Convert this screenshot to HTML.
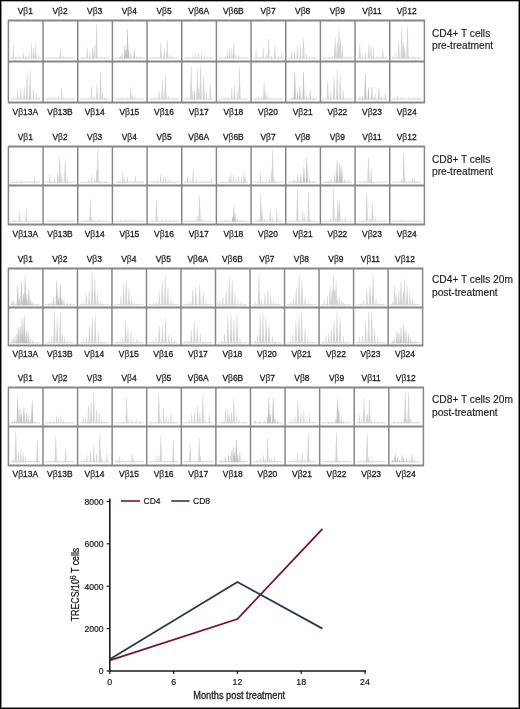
<!DOCTYPE html><html><head><meta charset="utf-8"><style>html,body{margin:0;padding:0;background:#fff;overflow:hidden}svg{display:block;filter:blur(0.3px);font-family:"Liberation Sans",sans-serif}</style></head><body>
<svg width="520" height="709" viewBox="0 0 520 709">
<rect x="0" y="0" width="520" height="709" fill="#fff"/>
<path d="M10.52 58.5L10.75 57.0L11.25 57.0L11.48 58.5ZM12.50 58.5L13.15 45.2L13.65 45.2L14.30 58.5ZM15.52 58.5L15.75 57.0L16.25 57.0L16.48 58.5ZM19.50 58.5L19.75 56.5L20.25 56.5L20.50 58.5ZM22.86 58.5L23.25 52.6L23.75 52.6L24.14 58.5ZM25.66 58.5L25.95 55.3L26.45 55.3L26.74 58.5ZM28.29 58.5L28.65 53.3L29.15 53.3L29.51 58.5ZM30.66 58.5L31.35 44.0L31.85 44.0L32.54 58.5ZM32.77 58.5L33.35 47.2L33.85 47.2L34.43 58.5ZM34.66 58.5L35.35 44.0L35.85 44.0L36.54 58.5ZM38.13 58.5L38.45 54.6L38.95 54.6L39.27 58.5ZM51.18 58.5L51.42 57.0L51.92 57.0L52.15 58.5ZM54.18 58.5L54.42 57.0L54.92 57.0L55.15 58.5ZM56.67 58.5L56.92 56.7L57.42 56.7L57.66 58.5ZM59.69 58.5L60.22 48.6L60.72 48.6L61.25 58.5ZM62.62 58.5L62.92 55.3L63.42 55.3L63.71 58.5ZM65.57 58.5L65.82 56.7L66.32 56.7L66.56 58.5ZM68.18 58.5L68.42 57.0L68.92 57.0L69.15 58.5ZM83.85 58.5L84.08 57.0L84.58 57.0L84.82 58.5ZM86.31 58.5L86.88 47.2L87.38 47.2L87.96 58.5ZM89.17 58.5L89.58 52.0L90.08 52.0L90.49 58.5ZM91.71 58.5L92.28 47.2L92.78 47.2L93.36 58.5ZM93.34 58.5L93.98 45.2L94.48 45.2L95.13 58.5ZM95.38 58.5L96.28 24.0L96.78 24.0L97.68 58.5ZM98.04 58.5L98.28 56.7L98.78 56.7L99.03 58.5ZM102.05 58.5L102.28 57.0L102.78 57.0L103.02 58.5ZM104.05 58.5L104.28 57.0L104.78 57.0L105.02 58.5ZM154.28 58.5L154.52 57.0L155.02 57.0L155.25 58.5ZM156.96 58.5L157.22 56.5L157.72 56.5L157.97 58.5ZM159.76 58.5L160.52 42.0L161.02 42.0L161.78 58.5ZM163.41 58.5L163.92 49.3L164.42 49.3L164.92 58.5ZM166.19 58.5L167.02 40.0L167.52 40.0L168.35 58.5ZM170.28 58.5L170.62 54.0L171.12 54.0L171.46 58.5ZM173.07 58.5L173.32 56.7L173.82 56.7L174.06 58.5ZM188.55 58.5L188.78 57.0L189.28 57.0L189.52 58.5ZM191.93 58.5L192.18 56.5L192.68 56.5L192.94 58.5ZM195.22 58.5L195.58 53.3L196.08 53.3L196.45 58.5ZM198.19 58.5L198.58 52.6L199.08 52.6L199.47 58.5ZM200.92 58.5L201.28 53.3L201.78 53.3L202.15 58.5ZM204.03 58.5L204.28 56.5L204.78 56.5L205.04 58.5ZM206.75 58.5L206.98 57.0L207.48 57.0L207.72 58.5ZM224.60 58.5L224.85 56.5L225.35 56.5L225.60 58.5ZM227.14 58.5L227.55 52.0L228.05 52.0L228.46 58.5ZM228.72 58.5L229.25 48.6L229.75 48.6L230.28 58.5ZM231.00 58.5L231.55 48.0L232.05 48.0L232.60 58.5ZM232.79 58.5L233.55 42.0L234.05 42.0L234.81 58.5ZM235.33 58.5L235.65 54.6L236.15 54.6L236.47 58.5ZM238.03 58.5L238.35 54.6L238.85 54.6L239.17 58.5ZM241.51 58.5L241.75 57.0L242.25 57.0L242.49 58.5ZM255.31 58.5L255.82 49.3L256.32 49.3L256.82 58.5ZM258.87 58.5L259.12 56.7L259.62 56.7L259.86 58.5ZM262.34 58.5L262.92 47.2L263.42 47.2L263.99 58.5ZM265.60 58.5L265.92 54.6L266.42 54.6L266.74 58.5ZM267.43 58.5L268.32 38.5L268.82 38.5L269.70 58.5ZM271.05 58.5L271.32 56.0L271.82 56.0L272.09 58.5ZM274.00 58.5L274.62 46.0L275.12 46.0L275.74 58.5ZM277.75 58.5L278.02 56.0L278.52 56.0L278.79 58.5ZM281.01 58.5L281.42 52.0L281.92 52.0L282.33 58.5ZM290.75 58.5L291.18 51.3L291.68 51.3L292.12 58.5ZM293.82 58.5L294.28 50.6L294.78 50.6L295.24 58.5ZM296.56 58.5L297.18 46.0L297.68 46.0L298.30 58.5ZM299.51 58.5L300.18 44.5L300.68 44.5L301.36 58.5ZM302.38 58.5L303.28 38.0L303.78 38.0L304.68 58.5ZM305.62 58.5L305.98 53.3L306.48 53.3L306.85 58.5ZM309.03 58.5L309.28 56.5L309.78 56.5L310.04 58.5ZM312.45 58.5L312.68 57.0L313.18 57.0L313.42 58.5ZM328.60 58.5L328.85 56.5L329.35 56.5L329.60 58.5ZM331.98 58.5L332.25 56.0L332.75 56.0L333.02 58.5ZM333.95 58.5L334.85 36.5L335.35 36.5L336.25 58.5ZM336.21 58.5L336.95 42.5L337.45 42.5L338.19 58.5ZM337.75 58.5L338.65 28.4L339.15 28.4L340.05 58.5ZM339.37 58.5L340.25 38.5L340.75 38.5L341.63 58.5ZM341.65 58.5L342.25 46.6L342.75 46.6L343.35 58.5ZM344.70 58.5L344.95 56.5L345.45 56.5L345.70 58.5ZM348.10 58.5L348.35 56.5L348.85 56.5L349.10 58.5ZM358.80 58.5L359.52 43.2L360.02 43.2L360.73 58.5ZM361.88 58.5L362.22 54.0L362.72 54.0L363.06 58.5ZM365.13 58.5L365.52 52.6L366.02 52.6L366.41 58.5ZM367.87 58.5L368.62 42.5L369.12 42.5L369.86 58.5ZM370.30 58.5L370.92 46.0L371.42 46.0L372.04 58.5ZM372.69 58.5L373.22 48.6L373.72 48.6L374.25 58.5ZM376.06 58.5L376.32 56.5L376.82 56.5L377.07 58.5ZM379.16 58.5L379.42 56.5L379.92 56.5L380.17 58.5ZM382.09 58.5L382.62 48.6L383.12 48.6L383.65 58.5ZM384.78 58.5L385.02 57.0L385.52 57.0L385.75 58.5ZM392.23 58.5L392.48 56.5L392.98 56.5L393.24 58.5ZM395.19 58.5L395.58 52.6L396.08 52.6L396.47 58.5ZM397.72 58.5L398.48 42.0L398.98 42.0L399.74 58.5ZM400.58 58.5L401.48 26.4L401.98 26.4L402.88 58.5ZM402.44 58.5L403.18 42.5L403.68 42.5L404.43 58.5ZM403.96 58.5L404.58 46.0L405.08 46.0L405.70 58.5ZM406.38 58.5L407.28 26.4L407.78 26.4L408.68 58.5ZM409.03 58.5L409.28 56.5L409.78 56.5L410.04 58.5ZM412.31 58.5L412.58 56.0L413.08 56.0L413.35 58.5ZM415.03 58.5L415.28 56.5L415.78 56.5L416.04 58.5ZM13.50 99.5L13.75 97.5L14.25 97.5L14.50 99.5ZM16.92 99.5L17.45 89.6L17.95 89.6L18.48 99.5ZM19.95 99.5L20.55 87.6L21.05 87.6L21.65 99.5ZM23.30 99.5L23.95 86.2L24.45 86.2L25.10 99.5ZM25.95 99.5L26.85 72.0L27.35 72.0L28.25 99.5ZM29.05 99.5L29.95 69.4L30.45 69.4L31.35 99.5ZM32.80 99.5L33.35 89.0L33.85 89.0L34.40 99.5ZM35.84 99.5L36.25 93.0L36.75 93.0L37.16 99.5ZM39.08 99.5L39.35 97.0L39.85 97.0L40.12 99.5ZM49.15 99.5L49.42 97.0L49.92 97.0L50.19 99.5ZM51.95 99.5L52.22 97.0L52.72 97.0L52.99 99.5ZM55.25 99.5L55.52 97.0L56.02 97.0L56.29 99.5ZM57.90 99.5L58.22 95.6L58.72 95.6L59.04 99.5ZM60.72 99.5L61.32 87.6L61.82 87.6L62.42 99.5ZM63.35 99.5L63.62 97.0L64.12 97.0L64.39 99.5ZM66.68 99.5L66.92 98.0L67.42 98.0L67.65 99.5ZM87.83 99.5L88.08 97.5L88.58 97.5L88.84 99.5ZM90.61 99.5L91.28 85.5L91.78 85.5L92.46 99.5ZM93.66 99.5L93.98 95.6L94.48 95.6L94.80 99.5ZM95.97 99.5L96.68 84.2L97.18 84.2L97.90 99.5ZM99.38 99.5L100.28 72.1L100.78 72.1L101.68 99.5ZM101.85 99.5L102.28 92.3L102.78 92.3L103.22 99.5ZM104.01 99.5L104.28 97.0L104.78 97.0L105.05 99.5ZM118.20 99.5L118.45 97.5L118.95 97.5L119.20 99.5ZM120.88 99.5L121.15 97.0L121.65 97.0L121.92 99.5ZM123.60 99.5L123.85 97.5L124.35 97.5L124.60 99.5ZM127.00 99.5L127.25 97.7L127.75 97.7L128.00 99.5ZM129.93 99.5L130.55 87.0L131.05 87.0L131.67 99.5ZM131.61 99.5L131.95 95.0L132.45 95.0L132.79 99.5ZM133.63 99.5L133.95 95.6L134.45 95.6L134.77 99.5ZM135.71 99.5L135.95 98.0L136.45 98.0L136.69 99.5ZM152.86 99.5L153.12 97.5L153.62 97.5L153.87 99.5ZM156.25 99.5L156.52 97.0L157.02 97.0L157.29 99.5ZM158.44 99.5L158.92 91.0L159.42 91.0L159.90 99.5ZM161.23 99.5L162.12 79.5L162.62 79.5L163.50 99.5ZM164.32 99.5L165.22 73.4L165.72 73.4L166.62 99.5ZM167.62 99.5L167.92 96.3L168.42 96.3L168.71 99.5ZM171.06 99.5L171.32 97.5L171.82 97.5L172.07 99.5ZM174.06 99.5L174.32 97.5L174.82 97.5L175.07 99.5ZM187.21 99.5L187.48 97.0L187.98 97.0L188.25 99.5ZM189.98 99.5L190.88 66.0L191.38 66.0L192.28 99.5ZM192.10 99.5L192.58 91.0L193.08 91.0L193.56 99.5ZM193.65 99.5L194.18 89.6L194.68 89.6L195.21 99.5ZM196.28 99.5L197.18 69.4L197.68 69.4L198.58 99.5ZM198.03 99.5L198.58 89.0L199.08 89.0L199.63 99.5ZM199.38 99.5L200.28 65.4L200.78 65.4L201.68 99.5ZM202.48 99.5L203.38 76.1L203.88 76.1L204.78 99.5ZM205.85 99.5L206.28 92.3L206.78 92.3L207.22 99.5ZM209.34 99.5L210.08 83.5L210.58 83.5L211.33 99.5ZM224.60 99.5L224.85 97.5L225.35 97.5L225.60 99.5ZM227.98 99.5L228.25 97.0L228.75 97.0L229.02 99.5ZM230.95 99.5L231.55 87.6L232.05 87.6L232.65 99.5ZM233.56 99.5L234.25 85.0L234.75 85.0L235.44 99.5ZM236.49 99.5L236.95 91.6L237.45 91.6L237.91 99.5ZM238.35 99.5L239.25 67.4L239.75 67.4L240.65 99.5ZM241.41 99.5L241.65 98.0L242.15 98.0L242.39 99.5ZM257.55 99.5L257.82 97.0L258.32 97.0L258.59 99.5ZM260.92 99.5L261.22 96.3L261.72 96.3L262.01 99.5ZM263.10 99.5L263.92 81.5L264.42 81.5L265.23 99.5ZM265.14 99.5L265.62 91.0L266.12 91.0L266.60 99.5ZM267.18 99.5L267.52 95.0L268.02 95.0L268.36 99.5ZM269.67 99.5L269.92 97.7L270.42 97.7L270.66 99.5ZM326.64 99.5L327.45 81.5L327.95 81.5L328.76 99.5ZM330.09 99.5L330.55 91.6L331.05 91.6L331.51 99.5ZM332.95 99.5L333.85 77.5L334.35 77.5L335.25 99.5ZM336.05 99.5L336.95 69.4L337.45 69.4L338.35 99.5ZM339.15 99.5L340.05 75.5L340.55 75.5L341.45 99.5ZM342.45 99.5L342.95 90.3L343.45 90.3L343.95 99.5ZM345.70 99.5L345.95 97.5L346.45 97.5L346.70 99.5ZM394.35 99.5L394.58 98.0L395.08 98.0L395.32 99.5ZM396.90 99.5L397.18 96.5L397.68 96.5L397.97 99.5ZM399.61 99.5L399.88 97.0L400.38 97.0L400.65 99.5ZM401.85 99.5L402.08 98.0L402.58 98.0L402.82 99.5ZM404.85 99.5L405.08 98.0L405.58 98.0L405.82 99.5ZM407.83 99.5L408.08 97.5L408.58 97.5L408.84 99.5ZM410.85 99.5L411.08 98.0L411.58 98.0L411.82 99.5ZM413.71 99.5L413.98 97.0L414.48 97.0L414.75 99.5ZM416.83 99.5L417.08 97.5L417.58 97.5L417.84 99.5ZM419.85 99.5L420.08 98.0L420.58 98.0L420.82 99.5ZM12.21 182.7L12.45 181.2L12.95 181.2L13.18 182.7ZM16.21 182.7L16.45 181.2L16.95 181.2L17.18 182.7ZM20.96 182.7L21.25 179.5L21.75 179.5L22.04 182.7ZM25.02 182.7L25.25 181.2L25.75 181.2L25.98 182.7ZM29.02 182.7L29.25 181.2L29.75 181.2L29.98 182.7ZM33.54 182.7L33.95 176.2L34.45 176.2L34.86 182.7ZM35.80 182.7L36.05 180.7L36.55 180.7L36.80 182.7ZM48.94 182.7L49.42 174.2L49.92 174.2L50.40 182.7ZM51.27 182.7L51.52 180.9L52.02 180.9L52.26 182.7ZM53.88 182.7L54.22 178.2L54.72 178.2L55.06 182.7ZM56.94 182.7L57.52 171.4L58.02 171.4L58.59 182.7ZM58.62 182.7L59.52 156.2L60.02 156.2L60.92 182.7ZM61.16 182.7L61.62 174.8L62.12 174.8L62.58 182.7ZM64.02 182.7L64.92 158.7L65.42 158.7L66.32 182.7ZM66.55 182.7L66.92 177.5L67.42 177.5L67.78 182.7ZM69.38 182.7L69.62 181.2L70.12 181.2L70.35 182.7ZM84.55 182.7L84.78 181.2L85.28 181.2L85.52 182.7ZM87.89 182.7L88.18 179.5L88.68 179.5L88.98 182.7ZM91.10 182.7L91.58 174.2L92.08 174.2L92.56 182.7ZM93.99 182.7L94.28 179.5L94.78 179.5L95.08 182.7ZM95.64 182.7L96.28 169.4L96.78 169.4L97.43 182.7ZM96.68 182.7L97.58 148.2L98.08 148.2L98.98 182.7ZM100.03 182.7L100.28 180.7L100.78 180.7L101.04 182.7ZM103.45 182.7L103.68 181.2L104.18 181.2L104.42 182.7ZM118.22 182.7L118.45 181.2L118.95 181.2L119.19 182.7ZM120.20 182.7L120.45 180.7L120.95 180.7L121.20 182.7ZM121.95 182.7L122.55 170.8L123.05 170.8L123.65 182.7ZM124.19 182.7L124.55 177.5L125.05 177.5L125.41 182.7ZM126.84 182.7L127.25 176.2L127.75 176.2L128.16 182.7ZM129.68 182.7L129.95 180.2L130.45 180.2L130.72 182.7ZM132.40 182.7L132.65 180.9L133.15 180.9L133.40 182.7ZM134.84 182.7L135.25 176.2L135.75 176.2L136.16 182.7ZM137.70 182.7L137.95 180.7L138.45 180.7L138.70 182.7ZM154.26 182.7L154.52 180.7L155.02 180.7L155.27 182.7ZM156.92 182.7L157.22 179.5L157.72 179.5L158.01 182.7ZM159.84 182.7L160.32 174.2L160.82 174.2L161.30 182.7ZM162.63 182.7L163.02 176.8L163.52 176.8L163.91 182.7ZM165.21 182.7L165.62 176.2L166.12 176.2L166.53 182.7ZM167.60 182.7L167.92 178.8L168.42 178.8L168.74 182.7ZM170.36 182.7L170.62 180.7L171.12 180.7L171.37 182.7ZM173.08 182.7L173.32 181.2L173.82 181.2L174.05 182.7ZM186.79 182.7L187.18 176.8L187.68 176.8L188.07 182.7ZM189.93 182.7L190.18 180.7L190.68 180.7L190.94 182.7ZM192.21 182.7L192.88 168.7L193.38 168.7L194.06 182.7ZM195.82 182.7L196.18 177.5L196.68 177.5L197.05 182.7ZM199.33 182.7L199.58 180.7L200.08 180.7L200.34 182.7ZM202.74 182.7L202.98 180.9L203.48 180.9L203.73 182.7ZM205.45 182.7L205.68 181.2L206.18 181.2L206.42 182.7ZM210.74 182.7L211.08 178.2L211.58 178.2L211.92 182.7ZM225.90 182.7L226.15 180.9L226.65 180.9L226.90 182.7ZM228.42 182.7L228.85 175.5L229.35 175.5L229.78 182.7ZM230.15 182.7L230.65 173.5L231.15 173.5L231.65 182.7ZM232.87 182.7L233.35 174.2L233.85 174.2L234.33 182.7ZM235.29 182.7L235.65 177.5L236.15 177.5L236.51 182.7ZM237.94 182.7L238.35 176.2L238.85 176.2L239.26 182.7ZM241.06 182.7L241.45 176.8L241.95 176.8L242.34 182.7ZM243.17 182.7L243.75 171.4L244.25 171.4L244.83 182.7ZM244.62 182.7L245.05 175.5L245.55 175.5L245.98 182.7ZM256.28 182.7L256.52 181.2L257.02 181.2L257.25 182.7ZM259.67 182.7L260.22 172.2L260.72 172.2L261.27 182.7ZM262.66 182.7L262.92 180.7L263.42 180.7L263.67 182.7ZM266.20 182.7L266.52 178.8L267.02 178.8L267.34 182.7ZM268.88 182.7L269.22 178.2L269.72 178.2L270.06 182.7ZM270.72 182.7L271.32 170.8L271.82 170.8L272.42 182.7ZM271.42 182.7L272.32 149.2L272.82 149.2L273.72 182.7ZM273.58 182.7L273.92 178.2L274.42 178.2L274.76 182.7ZM276.37 182.7L276.62 180.9L277.12 180.9L277.36 182.7ZM361.98 182.7L362.22 181.2L362.72 181.2L362.95 182.7ZM365.25 182.7L365.52 180.2L366.02 180.2L366.29 182.7ZM367.32 182.7L368.22 156.6L368.72 156.6L369.62 182.7ZM370.23 182.7L370.92 168.2L371.42 168.2L372.11 182.7ZM372.46 182.7L372.72 180.7L373.22 180.7L373.47 182.7ZM400.86 182.7L401.18 178.8L401.68 178.8L402.00 182.7ZM402.68 182.7L403.58 152.2L404.08 152.2L404.98 182.7ZM404.24 182.7L404.58 178.2L405.08 178.2L405.42 182.7ZM409.03 182.7L409.28 180.7L409.78 180.7L410.04 182.7ZM411.62 182.7L411.98 177.5L412.48 177.5L412.85 182.7ZM414.04 182.7L414.38 178.2L414.88 178.2L415.22 182.7ZM14.52 221.7L14.75 220.2L15.25 220.2L15.48 221.7ZM18.60 221.7L19.15 211.2L19.65 211.2L20.20 221.7ZM20.30 221.7L20.55 219.7L21.05 219.7L21.30 221.7ZM25.33 221.7L25.95 209.2L26.45 209.2L27.07 221.7ZM28.40 221.7L28.65 219.7L29.15 219.7L29.40 221.7ZM48.18 221.7L48.42 220.2L48.92 220.2L49.15 221.7ZM53.25 221.7L53.52 219.2L54.02 219.2L54.29 221.7ZM56.18 221.7L56.42 220.2L56.92 220.2L57.15 221.7ZM60.18 221.7L60.42 220.2L60.92 220.2L61.15 221.7ZM63.18 221.7L63.42 220.2L63.92 220.2L64.15 221.7ZM65.36 221.7L65.62 219.7L66.12 219.7L66.37 221.7ZM68.18 221.7L68.42 220.2L68.92 220.2L69.15 221.7ZM84.55 221.7L84.78 220.2L85.28 220.2L85.52 221.7ZM87.25 221.7L87.48 220.2L87.98 220.2L88.22 221.7ZM89.14 221.7L89.48 217.2L89.98 217.2L90.32 221.7ZM89.28 221.7L90.18 199.2L90.68 199.2L91.58 221.7ZM92.03 221.7L92.28 219.7L92.78 219.7L93.04 221.7ZM94.03 221.7L94.28 219.7L94.78 219.7L95.04 221.7ZM96.73 221.7L96.98 219.7L97.48 219.7L97.74 221.7ZM98.91 221.7L99.18 219.2L99.68 219.2L99.95 221.7ZM119.90 221.7L120.15 219.7L120.65 219.7L120.90 221.7ZM122.52 221.7L122.75 220.2L123.25 220.2L123.48 221.7ZM124.98 221.7L125.25 219.2L125.75 219.2L126.02 221.7ZM127.50 221.7L127.75 219.7L128.25 219.7L128.50 221.7ZM130.28 221.7L130.55 219.2L131.05 219.2L131.32 221.7ZM132.51 221.7L132.75 220.2L133.25 220.2L133.49 221.7ZM152.28 221.7L152.52 220.2L153.02 220.2L153.25 221.7ZM155.32 221.7L156.22 199.7L156.72 199.7L157.62 221.7ZM158.26 221.7L158.52 219.7L159.02 219.7L159.27 221.7ZM161.28 221.7L161.62 217.2L162.12 217.2L162.46 221.7ZM165.30 221.7L165.62 217.8L166.12 217.8L166.44 221.7ZM169.06 221.7L169.32 219.7L169.82 219.7L170.07 221.7ZM173.06 221.7L173.32 219.7L173.82 219.7L174.07 221.7ZM192.65 221.7L192.88 220.2L193.38 220.2L193.62 221.7ZM196.49 221.7L196.88 215.8L197.38 215.8L197.77 221.7ZM198.38 221.7L199.28 195.2L199.78 195.2L200.68 221.7ZM200.71 221.7L200.98 219.2L201.48 219.2L201.75 221.7ZM257.57 221.7L257.82 219.9L258.32 219.9L258.56 221.7ZM259.62 221.7L260.52 193.6L261.02 193.6L261.92 221.7ZM261.22 221.7L261.82 209.8L262.32 209.8L262.92 221.7ZM264.22 221.7L264.52 218.5L265.02 218.5L265.31 221.7ZM266.96 221.7L267.22 219.7L267.72 219.7L267.97 221.7ZM269.27 221.7L269.92 208.4L270.42 208.4L271.06 221.7ZM271.55 221.7L271.92 216.5L272.42 216.5L272.78 221.7ZM276.00 221.7L276.62 209.2L277.12 209.2L277.74 221.7ZM278.46 221.7L278.72 219.7L279.22 219.7L279.47 221.7ZM293.53 221.7L293.78 219.7L294.28 219.7L294.54 221.7ZM296.28 221.7L297.18 187.2L297.68 187.2L298.58 221.7ZM299.61 221.7L299.88 219.2L300.38 219.2L300.65 221.7ZM302.00 221.7L302.58 210.2L303.08 210.2L303.67 221.7ZM304.12 221.7L304.58 213.8L305.08 213.8L305.54 221.7ZM307.38 221.7L308.28 191.2L308.78 191.2L309.68 221.7ZM310.43 221.7L310.68 219.7L311.18 219.7L311.44 221.7ZM329.86 221.7L330.15 218.5L330.65 218.5L330.94 221.7ZM332.35 221.7L333.25 188.6L333.75 188.6L334.65 221.7ZM335.21 221.7L335.55 217.2L336.05 217.2L336.39 221.7ZM336.65 221.7L337.55 200.3L338.05 200.3L338.95 221.7ZM338.35 221.7L339.25 200.3L339.75 200.3L340.65 221.7ZM341.98 221.7L342.25 219.2L342.75 219.2L343.02 221.7ZM344.59 221.7L344.95 216.5L345.45 216.5L345.81 221.7ZM363.26 221.7L363.52 219.7L364.02 219.7L364.27 221.7ZM365.62 221.7L366.52 191.2L367.02 191.2L367.92 221.7ZM369.28 221.7L369.62 217.2L370.12 217.2L370.46 221.7ZM371.38 221.7L372.22 203.0L372.72 203.0L373.55 221.7ZM374.58 221.7L374.92 217.2L375.42 217.2L375.76 221.7ZM377.36 221.7L377.62 219.7L378.12 219.7L378.37 221.7ZM394.85 221.7L395.08 220.2L395.58 220.2L395.82 221.7ZM397.85 221.7L398.08 220.2L398.58 220.2L398.82 221.7ZM399.85 221.7L400.08 220.2L400.58 220.2L400.82 221.7ZM402.31 221.7L402.58 219.2L403.08 219.2L403.35 221.7ZM404.85 221.7L405.08 220.2L405.58 220.2L405.82 221.7ZM407.85 221.7L408.08 220.2L408.58 220.2L408.82 221.7ZM411.85 221.7L412.08 220.2L412.58 220.2L412.82 221.7ZM415.85 221.7L416.08 220.2L416.58 220.2L416.82 221.7ZM418.85 221.7L419.08 220.2L419.58 220.2L419.82 221.7ZM79.95 305.3L80.18 303.8L80.68 303.8L80.92 305.3ZM82.59 305.3L82.88 302.1L83.38 302.1L83.68 305.3ZM85.36 305.3L85.98 292.8L86.48 292.8L87.10 305.3ZM88.19 305.3L88.88 290.8L89.38 290.8L90.07 305.3ZM90.98 305.3L91.88 273.2L92.38 273.2L93.28 305.3ZM93.68 305.3L94.58 277.8L95.08 277.8L95.98 305.3ZM96.66 305.3L97.28 292.8L97.78 292.8L98.40 305.3ZM99.64 305.3L99.98 300.8L100.48 300.8L100.82 305.3ZM102.75 305.3L102.98 303.8L103.48 303.8L103.72 305.3ZM117.65 305.3L117.90 303.3L118.40 303.3L118.65 305.3ZM120.10 305.3L120.60 296.1L121.10 296.1L121.60 305.3ZM122.40 305.3L123.30 284.8L123.80 284.8L124.70 305.3ZM125.10 305.3L126.00 279.8L126.50 279.8L127.40 305.3ZM127.91 305.3L128.70 288.0L129.20 288.0L129.99 305.3ZM130.99 305.3L131.40 298.8L131.90 298.8L132.31 305.3ZM133.71 305.3L134.00 302.1L134.50 302.1L134.79 305.3ZM137.15 305.3L137.40 303.3L137.90 303.3L138.15 305.3ZM152.95 305.3L153.22 302.8L153.72 302.8L153.99 305.3ZM156.00 305.3L156.32 301.4L156.82 301.4L157.14 305.3ZM158.37 305.3L159.02 292.0L159.52 292.0L160.16 305.3ZM161.12 305.3L162.02 280.6L162.52 280.6L163.42 305.3ZM164.02 305.3L164.92 275.2L165.42 275.2L166.32 305.3ZM166.80 305.3L167.62 287.3L168.12 287.3L168.93 305.3ZM170.31 305.3L170.72 298.8L171.22 298.8L171.63 305.3ZM173.15 305.3L173.42 302.8L173.92 302.8L174.19 305.3ZM186.66 305.3L186.93 302.8L187.43 302.8L187.70 305.3ZM189.29 305.3L189.63 300.8L190.13 300.8L190.47 305.3ZM191.59 305.3L192.33 289.3L192.83 289.3L193.58 305.3ZM194.82 305.3L195.63 287.3L196.13 287.3L196.95 305.3ZM198.53 305.3L199.43 284.6L199.93 284.6L200.83 305.3ZM202.39 305.3L203.03 292.0L203.53 292.0L204.18 305.3ZM205.34 305.3L205.73 299.4L206.23 299.4L206.62 305.3ZM208.88 305.3L209.13 303.3L209.63 303.3L209.89 305.3ZM217.26 305.3L217.55 302.1L218.05 302.1L218.34 305.3ZM219.59 305.3L219.95 300.1L220.45 300.1L220.81 305.3ZM222.17 305.3L222.65 296.8L223.15 296.8L223.63 305.3ZM225.11 305.3L225.85 289.3L226.35 289.3L227.09 305.3ZM228.05 305.3L228.95 277.2L229.45 277.2L230.35 305.3ZM231.05 305.3L231.95 280.6L232.45 280.6L233.35 305.3ZM234.13 305.3L234.75 292.8L235.25 292.8L235.87 305.3ZM237.36 305.3L237.75 299.4L238.25 299.4L238.64 305.3ZM240.18 305.3L240.45 302.8L240.95 302.8L241.22 305.3ZM243.51 305.3L243.75 303.8L244.25 303.8L244.49 305.3ZM255.00 305.3L255.27 302.8L255.77 302.8L256.04 305.3ZM257.77 305.3L258.67 273.2L259.17 273.2L260.07 305.3ZM260.98 305.3L261.37 299.4L261.87 299.4L262.26 305.3ZM264.07 305.3L264.67 293.4L265.17 293.4L265.77 305.3ZM266.95 305.3L267.67 290.0L268.17 290.0L268.88 305.3ZM269.79 305.3L270.37 294.0L270.87 294.0L271.44 305.3ZM273.08 305.3L273.47 299.4L273.97 299.4L274.36 305.3ZM276.61 305.3L276.87 303.3L277.37 303.3L277.62 305.3ZM289.66 305.3L289.98 301.4L290.48 301.4L290.80 305.3ZM292.60 305.3L293.08 296.8L293.58 296.8L294.06 305.3ZM295.15 305.3L295.98 286.6L296.48 286.6L297.32 305.3ZM298.08 305.3L298.98 273.8L299.48 273.8L300.38 305.3ZM300.88 305.3L301.78 280.6L302.28 280.6L303.18 305.3ZM304.30 305.3L304.78 296.8L305.28 296.8L305.76 305.3ZM307.59 305.3L307.88 302.1L308.38 302.1L308.68 305.3ZM309.85 305.3L310.08 303.8L310.58 303.8L310.82 305.3ZM323.49 305.3L323.90 298.8L324.40 298.8L324.81 305.3ZM326.47 305.3L327.00 295.4L327.50 295.4L328.03 305.3ZM328.86 305.3L329.70 286.6L330.20 286.6L331.04 305.3ZM330.98 305.3L331.70 290.0L332.20 290.0L332.92 305.3ZM332.20 305.3L333.10 274.8L333.60 274.8L334.50 305.3ZM333.64 305.3L334.40 288.8L334.90 288.8L335.66 305.3ZM334.90 305.3L335.80 281.9L336.30 281.9L337.20 305.3ZM336.71 305.3L337.10 299.4L337.60 299.4L337.99 305.3ZM338.37 305.3L338.90 295.4L339.40 295.4L339.93 305.3ZM340.74 305.3L341.10 300.1L341.60 300.1L341.96 305.3ZM342.91 305.3L343.20 302.1L343.70 302.1L343.99 305.3ZM360.06 305.3L360.32 303.3L360.82 303.3L361.07 305.3ZM363.03 305.3L363.42 299.4L363.92 299.4L364.31 305.3ZM365.86 305.3L366.62 288.8L367.12 288.8L367.88 305.3ZM368.82 305.3L369.72 284.8L370.22 284.8L371.12 305.3ZM371.92 305.3L372.82 273.8L373.32 273.8L374.22 305.3ZM375.38 305.3L375.82 298.1L376.32 298.1L376.75 305.3ZM378.42 305.3L378.72 302.1L379.22 302.1L379.51 305.3ZM380.98 305.3L381.22 303.8L381.72 303.8L381.95 305.3ZM391.74 305.3L392.03 302.1L392.53 302.1L392.83 305.3ZM393.55 305.3L394.43 285.3L394.93 285.3L395.82 305.3ZM395.78 305.3L396.33 294.8L396.83 294.8L397.38 305.3ZM397.84 305.3L398.53 290.8L399.03 290.8L399.72 305.3ZM399.83 305.3L400.73 281.9L401.23 281.9L402.13 305.3ZM402.36 305.3L403.03 291.3L403.53 291.3L404.21 305.3ZM403.23 305.3L404.13 279.2L404.63 279.2L405.53 305.3ZM405.95 305.3L406.83 285.3L407.33 285.3L408.22 305.3ZM408.89 305.3L409.53 292.0L410.03 292.0L410.68 305.3ZM411.82 305.3L412.23 298.8L412.73 298.8L413.14 305.3ZM414.68 305.3L414.93 303.3L415.43 303.3L415.69 305.3ZM48.57 343.3L48.87 340.1L49.37 340.1L49.66 343.3ZM51.16 343.3L51.57 336.8L52.07 336.8L52.48 343.3ZM53.37 343.3L54.27 310.5L54.77 310.5L55.67 343.3ZM56.07 343.3L56.97 317.8L57.47 317.8L58.37 343.3ZM59.17 343.3L60.07 311.8L60.57 311.8L61.47 343.3ZM61.76 343.3L62.27 334.1L62.77 334.1L63.27 343.3ZM63.96 343.3L64.37 336.8L64.87 336.8L65.28 343.3ZM66.77 343.3L67.07 340.1L67.57 340.1L67.86 343.3ZM69.51 343.3L69.77 341.3L70.27 341.3L70.52 343.3ZM82.54 343.3L82.88 338.8L83.38 338.8L83.72 343.3ZM85.77 343.3L86.18 336.8L86.68 336.8L87.09 343.3ZM88.40 343.3L89.18 326.0L89.68 326.0L90.47 343.3ZM91.08 343.3L91.98 317.2L92.48 317.2L93.38 343.3ZM94.08 343.3L94.98 315.2L95.48 315.2L96.38 343.3ZM97.51 343.3L98.08 332.0L98.58 332.0L99.16 343.3ZM100.69 343.3L100.98 340.1L101.48 340.1L101.78 343.3ZM104.15 343.3L104.38 341.8L104.88 341.8L105.12 343.3ZM116.93 343.3L117.20 340.8L117.70 340.8L117.97 343.3ZM119.56 343.3L119.90 338.8L120.40 338.8L120.74 343.3ZM122.19 343.3L122.60 336.8L123.10 336.8L123.51 343.3ZM124.40 343.3L125.30 320.8L125.80 320.8L126.70 343.3ZM127.01 343.3L127.70 328.8L128.20 328.8L128.89 343.3ZM130.12 343.3L130.70 332.0L131.20 332.0L131.78 343.3ZM133.04 343.3L133.40 338.1L133.90 338.1L134.26 343.3ZM135.76 343.3L136.10 338.8L136.60 338.8L136.94 343.3ZM138.21 343.3L138.50 340.1L139.00 340.1L139.29 343.3ZM152.92 343.3L153.22 340.1L153.72 340.1L154.01 343.3ZM155.53 343.3L155.92 337.4L156.42 337.4L156.81 343.3ZM158.20 343.3L159.02 325.3L159.52 325.3L160.33 343.3ZM161.43 343.3L162.22 326.0L162.72 326.0L163.50 343.3ZM164.42 343.3L165.32 318.6L165.82 318.6L166.72 343.3ZM167.94 343.3L168.42 334.8L168.92 334.8L169.40 343.3ZM171.01 343.3L171.42 336.8L171.92 336.8L172.33 343.3ZM174.02 343.3L174.32 340.1L174.82 340.1L175.11 343.3ZM184.66 343.3L184.93 340.8L185.43 340.8L185.70 343.3ZM187.34 343.3L187.63 340.1L188.13 340.1L188.43 343.3ZM190.26 343.3L190.93 329.3L191.43 329.3L192.11 343.3ZM193.13 343.3L194.03 321.3L194.53 321.3L195.43 343.3ZM196.27 343.3L197.03 326.6L197.53 326.6L198.30 343.3ZM199.50 343.3L200.03 333.4L200.53 333.4L201.06 343.3ZM202.74 343.3L203.03 340.1L203.53 340.1L203.83 343.3ZM205.48 343.3L205.73 341.3L206.23 341.3L206.49 343.3ZM221.26 343.3L221.55 340.1L222.05 340.1L222.34 343.3ZM223.75 343.3L224.25 334.1L224.75 334.1L225.25 343.3ZM226.75 343.3L227.65 315.2L228.15 315.2L229.05 343.3ZM229.85 343.3L230.75 313.2L231.25 313.2L232.15 343.3ZM232.75 343.3L233.65 319.3L234.15 319.3L235.05 343.3ZM235.85 343.3L236.75 314.5L237.25 314.5L238.15 343.3ZM239.39 343.3L239.75 338.1L240.25 338.1L240.61 343.3ZM242.21 343.3L242.45 341.8L242.95 341.8L243.19 343.3ZM254.97 343.3L255.27 340.1L255.77 340.1L256.06 343.3ZM256.76 343.3L257.27 334.1L257.77 334.1L258.27 343.3ZM259.07 343.3L259.97 314.5L260.47 314.5L261.37 343.3ZM261.77 343.3L262.67 313.2L263.17 313.2L264.07 343.3ZM264.87 343.3L265.77 316.6L266.27 316.6L267.17 343.3ZM267.93 343.3L268.77 324.6L269.27 324.6L270.10 343.3ZM271.61 343.3L272.07 335.4L272.57 335.4L273.03 343.3ZM274.87 343.3L275.17 340.1L275.67 340.1L275.96 343.3ZM289.69 343.3L289.98 340.1L290.48 340.1L290.78 343.3ZM292.08 343.3L292.58 334.1L293.08 334.1L293.59 343.3ZM294.78 343.3L295.68 319.9L296.18 319.9L297.08 343.3ZM297.78 343.3L298.68 315.8L299.18 315.8L300.08 343.3ZM300.48 343.3L301.38 311.2L301.88 311.2L302.78 343.3ZM304.07 343.3L304.78 328.0L305.28 328.0L306.00 343.3ZM307.09 343.3L307.48 337.4L307.98 337.4L308.37 343.3ZM309.79 343.3L310.08 340.1L310.58 340.1L310.88 343.3ZM322.75 343.3L323.00 341.3L323.50 341.3L323.75 343.3ZM325.22 343.3L325.70 334.8L326.20 334.8L326.68 343.3ZM327.87 343.3L328.40 333.4L328.90 333.4L329.43 343.3ZM330.33 343.3L331.00 329.3L331.50 329.3L332.17 343.3ZM332.90 343.3L333.80 320.6L334.30 320.6L335.20 343.3ZM335.80 343.3L336.70 311.2L337.20 311.2L338.10 343.3ZM338.90 343.3L339.80 317.2L340.30 317.2L341.20 343.3ZM342.77 343.3L343.20 336.1L343.70 336.1L344.13 343.3ZM345.63 343.3L345.90 340.8L346.40 340.8L346.67 343.3ZM358.61 343.3L359.02 336.8L359.52 336.8L359.93 343.3ZM361.88 343.3L362.32 336.1L362.82 336.1L363.25 343.3ZM364.42 343.3L365.32 321.9L365.82 321.9L366.72 343.3ZM367.52 343.3L368.42 311.8L368.92 311.8L369.82 343.3ZM370.62 343.3L371.52 310.5L372.02 310.5L372.92 343.3ZM373.74 343.3L374.42 329.3L374.92 329.3L375.59 343.3ZM377.01 343.3L377.42 336.8L377.92 336.8L378.33 343.3ZM380.25 343.3L380.52 340.8L381.02 340.8L381.29 343.3ZM49.18 423.3L49.43 421.3L49.93 421.3L50.19 423.3ZM51.29 423.3L51.53 421.5L52.03 421.5L52.28 423.3ZM53.21 423.3L53.53 419.4L54.03 419.4L54.35 423.3ZM55.77 423.3L56.23 415.4L56.73 415.4L57.19 423.3ZM57.87 423.3L58.23 418.1L58.73 418.1L59.10 423.3ZM60.07 423.3L60.53 415.4L61.03 415.4L61.49 423.3ZM62.64 423.3L62.93 420.1L63.43 420.1L63.73 423.3ZM65.40 423.3L65.63 421.8L66.13 421.8L66.37 423.3ZM82.38 423.3L82.82 416.1L83.32 416.1L83.75 423.3ZM85.15 423.3L85.52 418.1L86.02 418.1L86.38 423.3ZM87.40 423.3L88.22 405.3L88.72 405.3L89.53 423.3ZM90.02 423.3L90.92 401.9L91.42 401.9L92.32 423.3ZM92.62 423.3L93.52 391.8L94.02 391.8L94.92 423.3ZM95.54 423.3L96.22 409.3L96.72 409.3L97.39 423.3ZM98.34 423.3L98.92 412.0L99.42 412.0L99.99 423.3ZM101.32 423.3L101.62 420.1L102.12 420.1L102.41 423.3ZM104.08 423.3L104.32 421.8L104.82 421.8L105.05 423.3ZM119.27 423.3L119.50 421.8L120.00 421.8L120.23 423.3ZM122.93 423.3L123.20 420.8L123.70 420.8L123.97 423.3ZM125.40 423.3L126.30 397.2L126.80 397.2L127.70 423.3ZM128.28 423.3L128.60 419.4L129.10 419.4L129.42 423.3ZM131.56 423.3L131.90 418.8L132.40 418.8L132.74 423.3ZM135.56 423.3L135.90 418.8L136.40 418.8L136.74 423.3ZM139.01 423.3L139.30 420.1L139.80 420.1L140.09 423.3ZM155.63 423.3L155.88 421.3L156.38 421.3L156.64 423.3ZM157.68 423.3L158.58 393.2L159.08 393.2L159.98 423.3ZM160.24 423.3L160.58 418.8L161.08 418.8L161.42 423.3ZM162.57 423.3L163.28 408.0L163.78 408.0L164.50 423.3ZM165.52 423.3L165.98 415.4L166.48 415.4L166.94 423.3ZM167.64 423.3L167.98 418.8L168.48 418.8L168.82 423.3ZM170.18 423.3L170.68 414.1L171.18 414.1L171.69 423.3ZM173.13 423.3L173.38 421.3L173.88 421.3L174.14 423.3ZM185.91 423.3L186.17 421.3L186.67 421.3L186.92 423.3ZM188.53 423.3L188.87 418.8L189.37 418.8L189.71 423.3ZM191.06 423.3L191.57 414.1L192.07 414.1L192.57 423.3ZM193.67 423.3L194.27 411.4L194.77 411.4L195.37 423.3ZM196.55 423.3L197.37 405.3L197.87 405.3L198.68 423.3ZM199.12 423.3L199.67 412.8L200.17 412.8L200.72 423.3ZM201.67 423.3L202.57 393.8L203.07 393.8L203.97 423.3ZM204.75 423.3L205.07 419.4L205.57 419.4L205.89 423.3ZM208.54 423.3L209.07 413.4L209.57 413.4L210.10 423.3ZM221.90 423.3L222.15 421.3L222.65 421.3L222.90 423.3ZM224.56 423.3L225.25 408.8L225.75 408.8L226.44 423.3ZM226.88 423.3L227.55 409.3L228.05 409.3L228.72 423.3ZM228.75 423.3L229.25 414.1L229.75 414.1L230.25 423.3ZM230.55 423.3L231.15 411.4L231.65 411.4L232.25 423.3ZM232.65 423.3L233.55 397.8L234.05 397.8L234.95 423.3ZM236.07 423.3L236.55 414.8L237.05 414.8L237.53 423.3ZM238.66 423.3L238.95 420.1L239.45 420.1L239.74 423.3ZM242.11 423.3L242.35 421.8L242.85 421.8L243.09 423.3ZM288.86 423.3L289.12 421.3L289.62 421.3L289.87 423.3ZM291.47 423.3L291.82 418.5L292.32 418.5L292.67 423.3ZM294.40 423.3L294.82 416.5L295.32 416.5L295.74 423.3ZM296.72 423.3L297.62 400.3L298.12 400.3L299.02 423.3ZM300.05 423.3L300.62 412.4L301.12 412.4L301.68 423.3ZM303.01 423.3L303.62 411.1L304.12 411.1L304.73 423.3ZM306.27 423.3L306.62 418.5L307.12 418.5L307.47 423.3ZM308.83 423.3L309.32 414.5L309.82 414.5L310.31 423.3ZM312.46 423.3L312.72 421.3L313.22 421.3L313.47 423.3ZM358.79 423.3L359.28 414.5L359.78 414.5L360.27 423.3ZM361.26 423.3L361.58 419.2L362.08 419.2L362.41 423.3ZM362.88 423.3L363.78 398.3L364.28 398.3L365.18 423.3ZM365.81 423.3L366.28 415.1L366.78 415.1L367.25 423.3ZM366.77 423.3L367.28 413.8L367.78 413.8L368.30 423.3ZM368.28 423.3L369.18 399.8L369.68 399.8L370.58 423.3ZM371.28 423.3L371.58 419.8L372.08 419.8L372.39 423.3ZM374.00 423.3L374.28 420.5L374.78 420.5L375.06 423.3ZM377.43 423.3L377.68 421.3L378.18 421.3L378.44 423.3ZM380.83 423.3L381.08 421.3L381.58 421.3L381.84 423.3ZM394.16 423.3L394.47 419.8L394.97 419.8L395.27 423.3ZM397.61 423.3L397.87 421.3L398.37 421.3L398.62 423.3ZM400.96 423.3L401.27 419.8L401.77 419.8L402.07 423.3ZM403.45 423.3L403.87 416.5L404.37 416.5L404.79 423.3ZM404.07 423.3L404.97 390.8L405.47 390.8L406.37 423.3ZM406.24 423.3L406.57 419.2L407.07 419.2L407.39 423.3ZM407.37 423.3L408.27 392.2L408.77 392.2L409.67 423.3ZM409.59 423.3L409.97 417.8L410.47 417.8L410.84 423.3ZM411.71 423.3L411.97 421.3L412.47 421.3L412.72 423.3ZM12.83 462.3L13.15 458.4L13.65 458.4L13.97 462.3ZM14.65 462.3L15.55 431.5L16.05 431.5L16.95 462.3ZM17.70 462.3L18.25 451.8L18.75 451.8L19.30 462.3ZM19.88 462.3L20.55 448.3L21.05 448.3L21.72 462.3ZM22.30 462.3L22.85 451.8L23.35 451.8L23.90 462.3ZM24.84 462.3L25.25 455.8L25.75 455.8L26.16 462.3ZM27.70 462.3L27.95 460.3L28.45 460.3L28.70 462.3ZM31.12 462.3L31.35 460.8L31.85 460.8L32.09 462.3ZM36.15 462.3L37.05 440.3L37.55 440.3L38.45 462.3ZM49.18 462.3L49.43 460.3L49.93 460.3L50.19 462.3ZM51.90 462.3L52.13 460.8L52.63 460.8L52.87 462.3ZM54.63 462.3L55.53 436.2L56.03 436.2L56.93 462.3ZM57.98 462.3L58.23 460.3L58.73 460.3L58.99 462.3ZM61.99 462.3L62.23 460.5L62.73 460.5L62.98 462.3ZM64.66 462.3L65.33 448.3L65.83 448.3L66.51 462.3ZM67.40 462.3L67.63 460.8L68.13 460.8L68.37 462.3ZM83.80 462.3L84.12 458.4L84.62 458.4L84.94 462.3ZM86.36 462.3L86.82 454.4L87.32 454.4L87.78 462.3ZM89.64 462.3L90.22 451.0L90.72 451.0L91.29 462.3ZM92.76 462.3L93.52 445.8L94.02 445.8L94.78 462.3ZM95.71 462.3L96.22 453.1L96.72 453.1L97.22 462.3ZM98.72 462.3L99.62 433.5L100.12 433.5L101.02 462.3ZM101.25 462.3L101.62 457.1L102.12 457.1L102.48 462.3ZM106.11 462.3L106.62 453.1L107.12 453.1L107.62 462.3ZM115.51 462.3L115.80 459.1L116.30 459.1L116.59 462.3ZM118.81 462.3L119.20 456.4L119.70 456.4L120.09 462.3ZM122.31 462.3L122.60 459.1L123.10 459.1L123.39 462.3ZM125.77 462.3L126.00 460.8L126.50 460.8L126.73 462.3ZM129.71 462.3L130.00 459.1L130.50 459.1L130.79 462.3ZM131.37 462.3L131.90 452.4L132.40 452.4L132.93 462.3ZM132.98 462.3L133.30 458.4L133.80 458.4L134.12 462.3ZM136.26 462.3L136.50 460.8L137.00 460.8L137.24 462.3ZM154.89 462.3L155.18 459.1L155.68 459.1L155.98 462.3ZM157.45 462.3L157.88 455.1L158.38 455.1L158.82 462.3ZM159.68 462.3L160.58 436.2L161.08 436.2L161.98 462.3ZM163.64 462.3L163.88 460.5L164.38 460.5L164.63 462.3ZM167.04 462.3L167.28 460.5L167.78 460.5L168.03 462.3ZM170.45 462.3L170.68 460.8L171.18 460.8L171.42 462.3ZM172.18 462.3L173.08 439.6L173.58 439.6L174.48 462.3ZM186.63 462.3L186.87 460.8L187.37 460.8L187.60 462.3ZM189.13 462.3L189.97 443.6L190.47 443.6L191.30 462.3ZM192.63 462.3L192.87 460.8L193.37 460.8L193.60 462.3ZM196.03 462.3L196.27 460.8L196.77 460.8L197.00 462.3ZM198.07 462.3L198.97 437.6L199.47 437.6L200.37 462.3ZM199.88 462.3L200.27 456.4L200.77 456.4L201.16 462.3ZM202.13 462.3L202.37 460.8L202.87 460.8L203.10 462.3ZM256.28 462.3L256.53 460.3L257.03 460.3L257.29 462.3ZM260.27 462.3L260.63 457.1L261.13 457.1L261.50 462.3ZM262.90 462.3L263.33 455.1L263.83 455.1L264.27 462.3ZM264.59 462.3L264.93 457.8L265.43 457.8L265.77 462.3ZM266.43 462.3L267.33 436.9L267.83 436.9L268.73 462.3ZM268.97 462.3L269.33 457.1L269.83 457.1L270.20 462.3ZM271.01 462.3L271.33 458.4L271.83 458.4L272.15 462.3ZM273.64 462.3L274.03 456.4L274.53 456.4L274.92 462.3ZM276.48 462.3L276.73 460.3L277.23 460.3L277.49 462.3ZM290.86 462.3L291.12 460.3L291.62 460.3L291.87 462.3ZM293.92 462.3L294.22 459.1L294.72 459.1L295.01 462.3ZM296.69 462.3L297.22 452.4L297.72 452.4L298.25 462.3ZM299.32 462.3L299.62 459.1L300.12 459.1L300.41 462.3ZM301.41 462.3L301.92 453.1L302.42 453.1L302.92 462.3ZM304.32 462.3L304.62 459.1L305.12 459.1L305.41 462.3ZM307.02 462.3L307.92 432.8L308.42 432.8L309.32 462.3ZM309.76 462.3L310.02 460.3L310.52 460.3L310.77 462.3ZM330.55 462.3L330.80 460.3L331.30 460.3L331.55 462.3ZM333.93 462.3L334.20 459.8L334.70 459.8L334.97 462.3ZM335.30 462.3L336.20 432.2L336.70 432.2L337.60 462.3ZM337.93 462.3L338.20 459.8L338.70 459.8L338.97 462.3ZM340.65 462.3L340.90 460.5L341.40 460.5L341.65 462.3ZM343.37 462.3L343.60 460.8L344.10 460.8L344.34 462.3ZM363.93 462.3L364.18 460.3L364.68 460.3L364.94 462.3ZM365.85 462.3L366.28 455.1L366.78 455.1L367.22 462.3ZM365.98 462.3L366.88 432.8L367.38 432.8L368.28 462.3ZM367.94 462.3L368.28 457.8L368.78 457.8L369.12 462.3ZM370.01 462.3L370.28 459.8L370.78 459.8L371.05 462.3ZM372.03 462.3L372.28 460.3L372.78 460.3L373.04 462.3Z" fill="rgb(211,211,211)" stroke="none"/>
<path d="M10.5 58.0H40.2M45.2 58.0H74.8M79.8 58.0H109.5M114.5 58.0H144.2M149.2 58.0H178.8M183.8 58.0H213.5M218.5 58.0H248.2M253.2 58.0H282.8M287.8 58.0H317.5M322.5 58.0H352.2M357.2 58.0H386.8M391.8 58.0H421.5M10.5 99.0H40.2M45.2 99.0H74.8M79.8 99.0H109.5M114.5 99.0H144.2M149.2 99.0H178.8M183.8 99.0H213.5M218.5 99.0H248.2M253.2 99.0H282.8M287.8 99.0H317.5M322.5 99.0H352.2M357.2 99.0H386.8M391.8 99.0H421.5M10.5 182.2H40.2M45.2 182.2H74.8M79.8 182.2H109.5M114.5 182.2H144.2M149.2 182.2H178.8M183.8 182.2H213.5M218.5 182.2H248.2M253.2 182.2H282.8M287.8 182.2H317.5M322.5 182.2H352.2M357.2 182.2H386.8M391.8 182.2H421.5M10.5 221.2H40.2M45.2 221.2H74.8M79.8 221.2H109.5M114.5 221.2H144.2M149.2 221.2H178.8M183.8 221.2H213.5M218.5 221.2H248.2M253.2 221.2H282.8M287.8 221.2H317.5M322.5 221.2H352.2M357.2 221.2H386.8M391.8 221.2H421.5M10.5 304.8H40.0M45.0 304.8H74.5M79.5 304.8H109.0M114.0 304.8H143.6M148.6 304.8H178.1M183.1 304.8H212.6M217.6 304.8H247.1M252.1 304.8H281.6M286.6 304.8H316.1M321.1 304.8H350.7M355.7 304.8H385.2M390.2 304.8H419.7M10.5 342.8H40.0M45.0 342.8H74.5M79.5 342.8H109.0M114.0 342.8H143.6M148.6 342.8H178.1M183.1 342.8H212.6M217.6 342.8H247.1M252.1 342.8H281.6M286.6 342.8H316.1M321.1 342.8H350.7M355.7 342.8H385.2M390.2 342.8H419.7M10.5 422.8H40.1M45.1 422.8H74.7M79.7 422.8H109.2M114.2 422.8H143.8M148.8 422.8H178.4M183.4 422.8H213.0M218.0 422.8H247.6M252.6 422.8H282.2M287.2 422.8H316.8M321.8 422.8H351.3M356.3 422.8H385.9M390.9 422.8H420.5M10.5 461.8H40.1M45.1 461.8H74.7M79.7 461.8H109.2M114.2 461.8H143.8M148.8 461.8H178.4M183.4 461.8H213.0M218.0 461.8H247.6M252.6 461.8H282.2M287.2 461.8H316.8M321.8 461.8H351.3M356.3 461.8H385.9M390.9 461.8H420.5" stroke="rgb(215,215,215)" stroke-width="1" fill="none"/>
<path d="M119.58 58.5L119.85 56.0L120.35 56.0L120.62 58.5ZM121.46 58.5L121.85 52.6L122.35 52.6L122.74 58.5ZM123.90 58.5L124.55 45.2L125.05 45.2L125.70 58.5ZM125.35 58.5L125.85 49.3L126.35 49.3L126.85 58.5ZM126.35 58.5L127.25 29.0L127.75 29.0L128.65 58.5ZM128.09 58.5L128.55 50.6L129.05 50.6L129.51 58.5ZM130.19 58.5L130.55 53.3L131.05 53.3L131.41 58.5ZM133.45 58.5L133.95 49.3L134.45 49.3L134.95 58.5ZM136.40 58.5L136.65 56.5L137.15 56.5L137.40 58.5ZM139.81 58.5L140.05 57.0L140.55 57.0L140.79 58.5ZM290.93 99.5L291.18 97.5L291.68 97.5L291.94 99.5ZM293.58 99.5L294.48 72.0L294.98 72.0L295.88 99.5ZM296.68 99.5L297.18 90.3L297.68 90.3L298.19 99.5ZM298.94 99.5L299.58 86.2L300.08 86.2L300.73 99.5ZM302.38 99.5L303.28 72.0L303.78 72.0L304.68 99.5ZM306.24 99.5L306.58 95.0L307.08 95.0L307.42 99.5ZM309.50 99.5L309.98 91.0L310.48 91.0L310.96 99.5ZM313.13 99.5L313.38 97.5L313.88 97.5L314.14 99.5ZM359.25 99.5L359.52 97.0L360.02 97.0L360.29 99.5ZM361.91 99.5L362.22 96.0L362.72 96.0L363.02 99.5ZM364.22 99.5L365.12 73.0L365.62 73.0L366.52 99.5ZM367.60 99.5L368.22 87.0L368.72 87.0L369.34 99.5ZM371.00 99.5L371.62 87.0L372.12 87.0L372.74 99.5ZM374.55 99.5L374.92 94.3L375.42 94.3L375.78 99.5ZM378.04 99.5L378.62 88.2L379.12 88.2L379.69 99.5ZM381.35 99.5L381.62 97.0L382.12 97.0L382.39 99.5ZM384.63 99.5L385.02 93.6L385.52 93.6L385.91 99.5ZM289.85 182.7L290.08 181.2L290.58 181.2L290.82 182.7ZM293.49 182.7L293.78 179.5L294.28 179.5L294.58 182.7ZM297.00 182.7L297.48 174.2L297.98 174.2L298.46 182.7ZM300.08 182.7L300.58 173.5L301.08 173.5L301.59 182.7ZM302.92 182.7L303.68 166.2L304.18 166.2L304.94 182.7ZM305.68 182.7L306.58 157.2L307.08 157.2L307.98 182.7ZM308.99 182.7L309.28 179.5L309.78 179.5L310.08 182.7ZM312.45 182.7L312.68 181.2L313.18 181.2L313.42 182.7ZM325.20 182.7L325.45 180.7L325.95 180.7L326.20 182.7ZM328.01 182.7L328.25 181.2L328.75 181.2L328.99 182.7ZM330.41 182.7L330.75 178.2L331.25 178.2L331.59 182.7ZM334.05 182.7L334.55 173.5L335.05 173.5L335.55 182.7ZM335.95 182.7L336.85 160.2L337.35 160.2L338.25 182.7ZM338.67 182.7L339.55 162.7L340.05 162.7L340.93 182.7ZM340.81 182.7L341.55 166.7L342.05 166.7L342.79 182.7ZM343.96 182.7L344.25 179.5L344.75 179.5L345.04 182.7ZM348.00 182.7L348.25 180.7L348.75 180.7L349.00 182.7ZM224.61 221.7L224.85 220.2L225.35 220.2L225.59 221.7ZM228.01 221.7L228.25 220.2L228.75 220.2L228.99 221.7ZM231.89 221.7L232.25 216.5L232.75 216.5L233.11 221.7ZM232.81 221.7L233.55 205.7L234.05 205.7L234.79 221.7ZM234.49 221.7L234.95 213.8L235.45 213.8L235.91 221.7ZM236.66 221.7L236.95 218.5L237.45 218.5L237.74 221.7ZM239.40 221.7L239.65 219.9L240.15 219.9L240.40 221.7ZM242.81 221.7L243.05 220.2L243.55 220.2L243.79 221.7ZM11.41 305.3L11.75 300.8L12.25 300.8L12.59 305.3ZM13.39 305.3L13.75 300.1L14.25 300.1L14.61 305.3ZM16.59 305.3L17.45 286.0L17.95 286.0L18.81 305.3ZM18.72 305.3L19.15 298.1L19.65 298.1L20.08 305.3ZM20.35 305.3L21.25 282.8L21.75 282.8L22.65 305.3ZM22.67 305.3L23.25 294.0L23.75 294.0L24.33 305.3ZM23.95 305.3L24.85 275.8L25.35 275.8L26.25 305.3ZM25.97 305.3L26.55 294.0L27.05 294.0L27.63 305.3ZM27.89 305.3L28.65 288.8L29.15 288.8L29.91 305.3ZM30.26 305.3L30.65 299.4L31.15 299.4L31.54 305.3ZM32.36 305.3L32.65 302.1L33.15 302.1L33.44 305.3ZM35.81 305.3L36.05 303.8L36.55 303.8L36.78 305.3ZM48.60 305.3L48.87 302.8L49.37 302.8L49.64 305.3ZM51.25 305.3L51.57 301.4L52.07 301.4L52.39 305.3ZM53.09 305.3L53.57 296.8L54.07 296.8L54.55 305.3ZM55.67 305.3L56.57 280.8L57.07 280.8L57.97 305.3ZM57.81 305.3L58.27 297.4L58.77 297.4L59.23 305.3ZM59.17 305.3L60.07 284.8L60.57 284.8L61.47 305.3ZM61.23 305.3L61.67 298.1L62.17 298.1L62.60 305.3ZM63.28 305.3L63.67 299.4L64.17 299.4L64.56 305.3ZM66.77 305.3L67.07 302.1L67.57 302.1L67.86 305.3ZM70.10 305.3L70.37 302.8L70.87 302.8L71.14 305.3ZM11.41 343.3L11.75 338.8L12.25 338.8L12.59 343.3ZM13.34 343.3L13.75 336.8L14.25 336.8L14.66 343.3ZM15.35 343.3L15.85 334.1L16.35 334.1L16.85 343.3ZM17.11 343.3L17.85 327.3L18.35 327.3L19.09 343.3ZM19.06 343.3L19.85 326.0L20.35 326.0L21.14 343.3ZM20.95 343.3L21.85 319.3L22.35 319.3L23.25 343.3ZM23.05 343.3L23.95 315.2L24.45 315.2L25.35 343.3ZM25.30 343.3L25.95 330.0L26.45 330.0L27.10 343.3ZM27.35 343.3L27.95 331.4L28.45 331.4L29.05 343.3ZM29.59 343.3L29.95 338.1L30.45 338.1L30.81 343.3ZM32.36 343.3L32.65 340.1L33.15 340.1L33.44 343.3ZM391.76 343.3L392.03 340.8L392.53 340.8L392.80 343.3ZM393.71 343.3L394.03 339.4L394.53 339.4L394.85 343.3ZM396.11 343.3L396.73 330.8L397.23 330.8L397.85 343.3ZM398.18 343.3L398.73 332.8L399.23 332.8L399.78 343.3ZM400.02 343.3L400.73 328.0L401.23 328.0L401.95 343.3ZM402.60 343.3L403.43 324.6L403.93 324.6L404.77 343.3ZM405.09 343.3L405.73 330.0L406.23 330.0L406.88 343.3ZM407.63 343.3L408.13 334.1L408.63 334.1L409.14 343.3ZM409.77 343.3L410.13 338.1L410.63 338.1L411.00 343.3ZM412.56 343.3L412.83 340.8L413.33 340.8L413.60 343.3ZM414.68 343.3L414.93 341.3L415.43 341.3L415.69 343.3ZM11.48 423.3L11.75 420.8L12.25 420.8L12.52 423.3ZM14.13 423.3L14.45 419.4L14.95 419.4L15.27 423.3ZM16.55 423.3L17.45 397.2L17.95 397.2L18.85 423.3ZM19.16 423.3L19.85 408.8L20.35 408.8L21.04 423.3ZM20.75 423.3L21.25 414.1L21.75 414.1L22.25 423.3ZM22.89 423.3L23.65 406.8L24.15 406.8L24.91 423.3ZM25.40 423.3L25.95 412.8L26.45 412.8L27.00 423.3ZM27.47 423.3L27.95 414.8L28.45 414.8L28.93 423.3ZM29.61 423.3L29.95 418.8L30.45 418.8L30.79 423.3ZM31.05 423.3L31.95 400.6L32.45 400.6L33.35 423.3ZM34.40 423.3L34.65 421.5L35.15 421.5L35.40 423.3ZM254.96 423.3L255.23 420.8L255.73 420.8L256.00 423.3ZM258.98 423.3L259.23 421.3L259.73 421.3L259.99 423.3ZM264.36 423.3L264.63 420.8L265.13 420.8L265.40 423.3ZM266.92 423.3L267.33 416.8L267.83 416.8L268.24 423.3ZM267.73 423.3L268.63 397.2L269.13 397.2L270.03 423.3ZM269.73 423.3L270.23 414.1L270.73 414.1L271.24 423.3ZM272.03 423.3L272.93 397.2L273.43 397.2L274.33 423.3ZM274.37 423.3L274.73 418.1L275.23 418.1L275.60 423.3ZM277.16 423.3L277.43 420.8L277.93 420.8L278.20 423.3ZM327.96 423.3L328.20 421.8L328.70 421.8L328.94 423.3ZM331.96 423.3L332.20 421.8L332.70 421.8L332.94 423.3ZM335.27 423.3L335.60 419.2L336.10 419.2L336.43 423.3ZM336.40 423.3L337.30 399.0L337.80 399.0L338.70 423.3ZM337.92 423.3L338.60 409.1L339.10 409.1L339.78 423.3ZM340.50 423.3L340.90 417.1L341.40 417.1L341.80 423.3ZM342.62 423.3L342.90 420.5L343.40 420.5L343.68 423.3ZM221.18 462.3L221.45 459.8L221.95 459.8L222.22 462.3ZM224.46 462.3L224.85 456.4L225.35 456.4L225.74 462.3ZM227.79 462.3L228.25 454.4L228.75 454.4L229.21 462.3ZM230.37 462.3L230.95 451.0L231.45 451.0L232.03 462.3ZM232.23 462.3L232.95 447.0L233.45 447.0L234.17 462.3ZM233.72 462.3L234.25 452.4L234.75 452.4L235.28 462.3ZM235.15 462.3L236.05 439.6L236.55 439.6L237.45 462.3ZM237.17 462.3L237.65 453.8L238.15 453.8L238.63 462.3ZM239.12 462.3L239.65 452.4L240.15 452.4L240.68 462.3ZM242.80 462.3L243.05 460.3L243.55 460.3L243.80 462.3ZM392.20 462.3L392.47 459.8L392.97 459.8L393.24 462.3ZM393.48 462.3L393.87 456.4L394.37 456.4L394.76 462.3ZM394.79 462.3L395.27 453.8L395.77 453.8L396.25 462.3ZM396.78 462.3L397.17 456.4L397.67 456.4L398.06 462.3ZM398.90 462.3L399.17 459.8L399.67 459.8L399.94 462.3ZM401.43 462.3L401.87 455.1L402.37 455.1L402.80 462.3ZM402.93 462.3L403.27 457.8L403.77 457.8L404.11 462.3ZM405.65 462.3L405.97 458.4L406.47 458.4L406.79 462.3ZM409.00 462.3L409.27 459.8L409.77 459.8L410.04 462.3ZM411.31 462.3L411.77 454.4L412.27 454.4L412.73 462.3ZM413.20 462.3L413.47 459.8L413.97 459.8L414.24 462.3Z" fill="rgb(195,195,195)" stroke="none"/>
<line x1="8.0" y1="20.5" x2="425.00" y2="20.5" stroke="#888" stroke-width="1.8"/>
<line x1="8.0" y1="61.5" x2="425.00" y2="61.5" stroke="#888" stroke-width="1.8"/>
<line x1="8.0" y1="102.5" x2="425.00" y2="102.5" stroke="#888" stroke-width="1.8"/>
<line x1="8.40" y1="20" x2="8.40" y2="103" stroke="#888" stroke-width="1.5"/>
<line x1="43.07" y1="20" x2="43.07" y2="103" stroke="#888" stroke-width="1.5"/>
<line x1="77.73" y1="20" x2="77.73" y2="103" stroke="#888" stroke-width="1.5"/>
<line x1="112.40" y1="20" x2="112.40" y2="103" stroke="#888" stroke-width="1.5"/>
<line x1="147.07" y1="20" x2="147.07" y2="103" stroke="#888" stroke-width="1.5"/>
<line x1="181.73" y1="20" x2="181.73" y2="103" stroke="#888" stroke-width="1.5"/>
<line x1="216.40" y1="20" x2="216.40" y2="103" stroke="#888" stroke-width="1.5"/>
<line x1="251.07" y1="20" x2="251.07" y2="103" stroke="#888" stroke-width="1.5"/>
<line x1="285.73" y1="20" x2="285.73" y2="103" stroke="#888" stroke-width="1.5"/>
<line x1="320.40" y1="20" x2="320.40" y2="103" stroke="#888" stroke-width="1.5"/>
<line x1="355.07" y1="20" x2="355.07" y2="103" stroke="#888" stroke-width="1.5"/>
<line x1="389.73" y1="20" x2="389.73" y2="103" stroke="#888" stroke-width="1.5"/>
<line x1="424.40" y1="20" x2="424.40" y2="103" stroke="#888" stroke-width="1.5"/>
<text x="25.33" y="14.4" font-size="8.45" text-anchor="middle" fill="#1a1a1a" stroke="#1a1a1a" stroke-width="0.28">V<tspan fill="#444" stroke="#444">&#946;</tspan>1</text>
<text x="60.00" y="14.4" font-size="8.45" text-anchor="middle" fill="#1a1a1a" stroke="#1a1a1a" stroke-width="0.28">V<tspan fill="#444" stroke="#444">&#946;</tspan>2</text>
<text x="94.67" y="14.4" font-size="8.45" text-anchor="middle" fill="#1a1a1a" stroke="#1a1a1a" stroke-width="0.28">V<tspan fill="#444" stroke="#444">&#946;</tspan>3</text>
<text x="129.33" y="14.4" font-size="8.45" text-anchor="middle" fill="#1a1a1a" stroke="#1a1a1a" stroke-width="0.28">V<tspan fill="#444" stroke="#444">&#946;</tspan>4</text>
<text x="164.00" y="14.4" font-size="8.45" text-anchor="middle" fill="#1a1a1a" stroke="#1a1a1a" stroke-width="0.28">V<tspan fill="#444" stroke="#444">&#946;</tspan>5</text>
<text x="198.67" y="14.4" font-size="8.45" text-anchor="middle" fill="#1a1a1a" stroke="#1a1a1a" stroke-width="0.28">V<tspan fill="#444" stroke="#444">&#946;</tspan>6A</text>
<text x="233.33" y="14.4" font-size="8.45" text-anchor="middle" fill="#1a1a1a" stroke="#1a1a1a" stroke-width="0.28">V<tspan fill="#444" stroke="#444">&#946;</tspan>6B</text>
<text x="268.00" y="14.4" font-size="8.45" text-anchor="middle" fill="#1a1a1a" stroke="#1a1a1a" stroke-width="0.28">V<tspan fill="#444" stroke="#444">&#946;</tspan>7</text>
<text x="302.67" y="14.4" font-size="8.45" text-anchor="middle" fill="#1a1a1a" stroke="#1a1a1a" stroke-width="0.28">V<tspan fill="#444" stroke="#444">&#946;</tspan>8</text>
<text x="337.33" y="14.4" font-size="8.45" text-anchor="middle" fill="#1a1a1a" stroke="#1a1a1a" stroke-width="0.28">V<tspan fill="#444" stroke="#444">&#946;</tspan>9</text>
<text x="372.00" y="14.4" font-size="8.45" text-anchor="middle" fill="#1a1a1a" stroke="#1a1a1a" stroke-width="0.28">V<tspan fill="#444" stroke="#444">&#946;</tspan>11</text>
<text x="406.67" y="14.4" font-size="8.45" text-anchor="middle" fill="#1a1a1a" stroke="#1a1a1a" stroke-width="0.28">V<tspan fill="#444" stroke="#444">&#946;</tspan>12</text>
<text x="25.33" y="114.6" font-size="8.45" text-anchor="middle" fill="#1a1a1a" stroke="#1a1a1a" stroke-width="0.28">V<tspan fill="#444" stroke="#444">&#946;</tspan>13A</text>
<text x="60.00" y="114.6" font-size="8.45" text-anchor="middle" fill="#1a1a1a" stroke="#1a1a1a" stroke-width="0.28">V<tspan fill="#444" stroke="#444">&#946;</tspan>13B</text>
<text x="94.67" y="114.6" font-size="8.45" text-anchor="middle" fill="#1a1a1a" stroke="#1a1a1a" stroke-width="0.28">V<tspan fill="#444" stroke="#444">&#946;</tspan>14</text>
<text x="129.33" y="114.6" font-size="8.45" text-anchor="middle" fill="#1a1a1a" stroke="#1a1a1a" stroke-width="0.28">V<tspan fill="#444" stroke="#444">&#946;</tspan>15</text>
<text x="164.00" y="114.6" font-size="8.45" text-anchor="middle" fill="#1a1a1a" stroke="#1a1a1a" stroke-width="0.28">V<tspan fill="#444" stroke="#444">&#946;</tspan>16</text>
<text x="198.67" y="114.6" font-size="8.45" text-anchor="middle" fill="#1a1a1a" stroke="#1a1a1a" stroke-width="0.28">V<tspan fill="#444" stroke="#444">&#946;</tspan>17</text>
<text x="233.33" y="114.6" font-size="8.45" text-anchor="middle" fill="#1a1a1a" stroke="#1a1a1a" stroke-width="0.28">V<tspan fill="#444" stroke="#444">&#946;</tspan>18</text>
<text x="268.00" y="114.6" font-size="8.45" text-anchor="middle" fill="#1a1a1a" stroke="#1a1a1a" stroke-width="0.28">V<tspan fill="#444" stroke="#444">&#946;</tspan>20</text>
<text x="302.67" y="114.6" font-size="8.45" text-anchor="middle" fill="#1a1a1a" stroke="#1a1a1a" stroke-width="0.28">V<tspan fill="#444" stroke="#444">&#946;</tspan>21</text>
<text x="337.33" y="114.6" font-size="8.45" text-anchor="middle" fill="#1a1a1a" stroke="#1a1a1a" stroke-width="0.28">V<tspan fill="#444" stroke="#444">&#946;</tspan>22</text>
<text x="372.00" y="114.6" font-size="8.45" text-anchor="middle" fill="#1a1a1a" stroke="#1a1a1a" stroke-width="0.28">V<tspan fill="#444" stroke="#444">&#946;</tspan>23</text>
<text x="406.67" y="114.6" font-size="8.45" text-anchor="middle" fill="#1a1a1a" stroke="#1a1a1a" stroke-width="0.28">V<tspan fill="#444" stroke="#444">&#946;</tspan>24</text>
<text x="432" y="36.9" font-size="10.2" fill="#1a1a1a" stroke="#1a1a1a" stroke-width="0.15">CD4+ T cells</text>
<text x="432" y="49.4" font-size="10.2" fill="#1a1a1a" stroke="#1a1a1a" stroke-width="0.15">pre-treatment</text>
<line x1="8.0" y1="146.5" x2="425.00" y2="146.5" stroke="#888" stroke-width="1.8"/>
<line x1="8.0" y1="185.5" x2="425.00" y2="185.5" stroke="#888" stroke-width="1.8"/>
<line x1="8.0" y1="224.5" x2="425.00" y2="224.5" stroke="#888" stroke-width="1.8"/>
<line x1="8.40" y1="146" x2="8.40" y2="225" stroke="#888" stroke-width="1.5"/>
<line x1="43.07" y1="146" x2="43.07" y2="225" stroke="#888" stroke-width="1.5"/>
<line x1="77.73" y1="146" x2="77.73" y2="225" stroke="#888" stroke-width="1.5"/>
<line x1="112.40" y1="146" x2="112.40" y2="225" stroke="#888" stroke-width="1.5"/>
<line x1="147.07" y1="146" x2="147.07" y2="225" stroke="#888" stroke-width="1.5"/>
<line x1="181.73" y1="146" x2="181.73" y2="225" stroke="#888" stroke-width="1.5"/>
<line x1="216.40" y1="146" x2="216.40" y2="225" stroke="#888" stroke-width="1.5"/>
<line x1="251.07" y1="146" x2="251.07" y2="225" stroke="#888" stroke-width="1.5"/>
<line x1="285.73" y1="146" x2="285.73" y2="225" stroke="#888" stroke-width="1.5"/>
<line x1="320.40" y1="146" x2="320.40" y2="225" stroke="#888" stroke-width="1.5"/>
<line x1="355.07" y1="146" x2="355.07" y2="225" stroke="#888" stroke-width="1.5"/>
<line x1="389.73" y1="146" x2="389.73" y2="225" stroke="#888" stroke-width="1.5"/>
<line x1="424.40" y1="146" x2="424.40" y2="225" stroke="#888" stroke-width="1.5"/>
<text x="25.33" y="139.6" font-size="8.45" text-anchor="middle" fill="#1a1a1a" stroke="#1a1a1a" stroke-width="0.28">V<tspan fill="#444" stroke="#444">&#946;</tspan>1</text>
<text x="60.00" y="139.6" font-size="8.45" text-anchor="middle" fill="#1a1a1a" stroke="#1a1a1a" stroke-width="0.28">V<tspan fill="#444" stroke="#444">&#946;</tspan>2</text>
<text x="94.67" y="139.6" font-size="8.45" text-anchor="middle" fill="#1a1a1a" stroke="#1a1a1a" stroke-width="0.28">V<tspan fill="#444" stroke="#444">&#946;</tspan>3</text>
<text x="129.33" y="139.6" font-size="8.45" text-anchor="middle" fill="#1a1a1a" stroke="#1a1a1a" stroke-width="0.28">V<tspan fill="#444" stroke="#444">&#946;</tspan>4</text>
<text x="164.00" y="139.6" font-size="8.45" text-anchor="middle" fill="#1a1a1a" stroke="#1a1a1a" stroke-width="0.28">V<tspan fill="#444" stroke="#444">&#946;</tspan>5</text>
<text x="198.67" y="139.6" font-size="8.45" text-anchor="middle" fill="#1a1a1a" stroke="#1a1a1a" stroke-width="0.28">V<tspan fill="#444" stroke="#444">&#946;</tspan>6A</text>
<text x="233.33" y="139.6" font-size="8.45" text-anchor="middle" fill="#1a1a1a" stroke="#1a1a1a" stroke-width="0.28">V<tspan fill="#444" stroke="#444">&#946;</tspan>6B</text>
<text x="268.00" y="139.6" font-size="8.45" text-anchor="middle" fill="#1a1a1a" stroke="#1a1a1a" stroke-width="0.28">V<tspan fill="#444" stroke="#444">&#946;</tspan>7</text>
<text x="302.67" y="139.6" font-size="8.45" text-anchor="middle" fill="#1a1a1a" stroke="#1a1a1a" stroke-width="0.28">V<tspan fill="#444" stroke="#444">&#946;</tspan>8</text>
<text x="337.33" y="139.6" font-size="8.45" text-anchor="middle" fill="#1a1a1a" stroke="#1a1a1a" stroke-width="0.28">V<tspan fill="#444" stroke="#444">&#946;</tspan>9</text>
<text x="372.00" y="139.6" font-size="8.45" text-anchor="middle" fill="#1a1a1a" stroke="#1a1a1a" stroke-width="0.28">V<tspan fill="#444" stroke="#444">&#946;</tspan>11</text>
<text x="406.67" y="139.6" font-size="8.45" text-anchor="middle" fill="#1a1a1a" stroke="#1a1a1a" stroke-width="0.28">V<tspan fill="#444" stroke="#444">&#946;</tspan>12</text>
<text x="25.33" y="236.5" font-size="8.45" text-anchor="middle" fill="#1a1a1a" stroke="#1a1a1a" stroke-width="0.28">V<tspan fill="#444" stroke="#444">&#946;</tspan>13A</text>
<text x="60.00" y="236.5" font-size="8.45" text-anchor="middle" fill="#1a1a1a" stroke="#1a1a1a" stroke-width="0.28">V<tspan fill="#444" stroke="#444">&#946;</tspan>13B</text>
<text x="94.67" y="236.5" font-size="8.45" text-anchor="middle" fill="#1a1a1a" stroke="#1a1a1a" stroke-width="0.28">V<tspan fill="#444" stroke="#444">&#946;</tspan>14</text>
<text x="129.33" y="236.5" font-size="8.45" text-anchor="middle" fill="#1a1a1a" stroke="#1a1a1a" stroke-width="0.28">V<tspan fill="#444" stroke="#444">&#946;</tspan>15</text>
<text x="164.00" y="236.5" font-size="8.45" text-anchor="middle" fill="#1a1a1a" stroke="#1a1a1a" stroke-width="0.28">V<tspan fill="#444" stroke="#444">&#946;</tspan>16</text>
<text x="198.67" y="236.5" font-size="8.45" text-anchor="middle" fill="#1a1a1a" stroke="#1a1a1a" stroke-width="0.28">V<tspan fill="#444" stroke="#444">&#946;</tspan>17</text>
<text x="233.33" y="236.5" font-size="8.45" text-anchor="middle" fill="#1a1a1a" stroke="#1a1a1a" stroke-width="0.28">V<tspan fill="#444" stroke="#444">&#946;</tspan>18</text>
<text x="268.00" y="236.5" font-size="8.45" text-anchor="middle" fill="#1a1a1a" stroke="#1a1a1a" stroke-width="0.28">V<tspan fill="#444" stroke="#444">&#946;</tspan>20</text>
<text x="302.67" y="236.5" font-size="8.45" text-anchor="middle" fill="#1a1a1a" stroke="#1a1a1a" stroke-width="0.28">V<tspan fill="#444" stroke="#444">&#946;</tspan>21</text>
<text x="337.33" y="236.5" font-size="8.45" text-anchor="middle" fill="#1a1a1a" stroke="#1a1a1a" stroke-width="0.28">V<tspan fill="#444" stroke="#444">&#946;</tspan>22</text>
<text x="372.00" y="236.5" font-size="8.45" text-anchor="middle" fill="#1a1a1a" stroke="#1a1a1a" stroke-width="0.28">V<tspan fill="#444" stroke="#444">&#946;</tspan>23</text>
<text x="406.67" y="236.5" font-size="8.45" text-anchor="middle" fill="#1a1a1a" stroke="#1a1a1a" stroke-width="0.28">V<tspan fill="#444" stroke="#444">&#946;</tspan>24</text>
<text x="432" y="162.7" font-size="10.2" fill="#1a1a1a" stroke="#1a1a1a" stroke-width="0.15">CD8+ T cells</text>
<text x="432" y="175.0" font-size="10.2" fill="#1a1a1a" stroke="#1a1a1a" stroke-width="0.15">pre-treatment</text>
<line x1="8.0" y1="268.5" x2="423.20" y2="268.5" stroke="#888" stroke-width="1.8"/>
<line x1="8.0" y1="307.5" x2="423.20" y2="307.5" stroke="#888" stroke-width="1.8"/>
<line x1="8.0" y1="345.5" x2="423.20" y2="345.5" stroke="#888" stroke-width="1.8"/>
<line x1="8.40" y1="268" x2="8.40" y2="346" stroke="#888" stroke-width="1.5"/>
<line x1="42.92" y1="268" x2="42.92" y2="346" stroke="#888" stroke-width="1.5"/>
<line x1="77.43" y1="268" x2="77.43" y2="346" stroke="#888" stroke-width="1.5"/>
<line x1="111.95" y1="268" x2="111.95" y2="346" stroke="#888" stroke-width="1.5"/>
<line x1="146.47" y1="268" x2="146.47" y2="346" stroke="#888" stroke-width="1.5"/>
<line x1="180.98" y1="268" x2="180.98" y2="346" stroke="#888" stroke-width="1.5"/>
<line x1="215.50" y1="268" x2="215.50" y2="346" stroke="#888" stroke-width="1.5"/>
<line x1="250.02" y1="268" x2="250.02" y2="346" stroke="#888" stroke-width="1.5"/>
<line x1="284.53" y1="268" x2="284.53" y2="346" stroke="#888" stroke-width="1.5"/>
<line x1="319.05" y1="268" x2="319.05" y2="346" stroke="#888" stroke-width="1.5"/>
<line x1="353.57" y1="268" x2="353.57" y2="346" stroke="#888" stroke-width="1.5"/>
<line x1="388.08" y1="268" x2="388.08" y2="346" stroke="#888" stroke-width="1.5"/>
<line x1="422.60" y1="268" x2="422.60" y2="346" stroke="#888" stroke-width="1.5"/>
<text x="25.26" y="262.0" font-size="8.45" text-anchor="middle" fill="#1a1a1a" stroke="#1a1a1a" stroke-width="0.28">V<tspan fill="#444" stroke="#444">&#946;</tspan>1</text>
<text x="59.77" y="262.0" font-size="8.45" text-anchor="middle" fill="#1a1a1a" stroke="#1a1a1a" stroke-width="0.28">V<tspan fill="#444" stroke="#444">&#946;</tspan>2</text>
<text x="94.29" y="262.0" font-size="8.45" text-anchor="middle" fill="#1a1a1a" stroke="#1a1a1a" stroke-width="0.28">V<tspan fill="#444" stroke="#444">&#946;</tspan>3</text>
<text x="128.81" y="262.0" font-size="8.45" text-anchor="middle" fill="#1a1a1a" stroke="#1a1a1a" stroke-width="0.28">V<tspan fill="#444" stroke="#444">&#946;</tspan>4</text>
<text x="163.32" y="262.0" font-size="8.45" text-anchor="middle" fill="#1a1a1a" stroke="#1a1a1a" stroke-width="0.28">V<tspan fill="#444" stroke="#444">&#946;</tspan>5</text>
<text x="197.84" y="262.0" font-size="8.45" text-anchor="middle" fill="#1a1a1a" stroke="#1a1a1a" stroke-width="0.28">V<tspan fill="#444" stroke="#444">&#946;</tspan>6A</text>
<text x="232.36" y="262.0" font-size="8.45" text-anchor="middle" fill="#1a1a1a" stroke="#1a1a1a" stroke-width="0.28">V<tspan fill="#444" stroke="#444">&#946;</tspan>6B</text>
<text x="266.88" y="262.0" font-size="8.45" text-anchor="middle" fill="#1a1a1a" stroke="#1a1a1a" stroke-width="0.28">V<tspan fill="#444" stroke="#444">&#946;</tspan>7</text>
<text x="301.39" y="262.0" font-size="8.45" text-anchor="middle" fill="#1a1a1a" stroke="#1a1a1a" stroke-width="0.28">V<tspan fill="#444" stroke="#444">&#946;</tspan>8</text>
<text x="335.91" y="262.0" font-size="8.45" text-anchor="middle" fill="#1a1a1a" stroke="#1a1a1a" stroke-width="0.28">V<tspan fill="#444" stroke="#444">&#946;</tspan>9</text>
<text x="370.42" y="262.0" font-size="8.45" text-anchor="middle" fill="#1a1a1a" stroke="#1a1a1a" stroke-width="0.28">V<tspan fill="#444" stroke="#444">&#946;</tspan>11</text>
<text x="404.94" y="262.0" font-size="8.45" text-anchor="middle" fill="#1a1a1a" stroke="#1a1a1a" stroke-width="0.28">V<tspan fill="#444" stroke="#444">&#946;</tspan>12</text>
<text x="25.26" y="357.0" font-size="8.45" text-anchor="middle" fill="#1a1a1a" stroke="#1a1a1a" stroke-width="0.28">V<tspan fill="#444" stroke="#444">&#946;</tspan>13A</text>
<text x="59.77" y="357.0" font-size="8.45" text-anchor="middle" fill="#1a1a1a" stroke="#1a1a1a" stroke-width="0.28">V<tspan fill="#444" stroke="#444">&#946;</tspan>13B</text>
<text x="94.29" y="357.0" font-size="8.45" text-anchor="middle" fill="#1a1a1a" stroke="#1a1a1a" stroke-width="0.28">V<tspan fill="#444" stroke="#444">&#946;</tspan>14</text>
<text x="128.81" y="357.0" font-size="8.45" text-anchor="middle" fill="#1a1a1a" stroke="#1a1a1a" stroke-width="0.28">V<tspan fill="#444" stroke="#444">&#946;</tspan>15</text>
<text x="163.32" y="357.0" font-size="8.45" text-anchor="middle" fill="#1a1a1a" stroke="#1a1a1a" stroke-width="0.28">V<tspan fill="#444" stroke="#444">&#946;</tspan>16</text>
<text x="197.84" y="357.0" font-size="8.45" text-anchor="middle" fill="#1a1a1a" stroke="#1a1a1a" stroke-width="0.28">V<tspan fill="#444" stroke="#444">&#946;</tspan>17</text>
<text x="232.36" y="357.0" font-size="8.45" text-anchor="middle" fill="#1a1a1a" stroke="#1a1a1a" stroke-width="0.28">V<tspan fill="#444" stroke="#444">&#946;</tspan>18</text>
<text x="266.88" y="357.0" font-size="8.45" text-anchor="middle" fill="#1a1a1a" stroke="#1a1a1a" stroke-width="0.28">V<tspan fill="#444" stroke="#444">&#946;</tspan>20</text>
<text x="301.39" y="357.0" font-size="8.45" text-anchor="middle" fill="#1a1a1a" stroke="#1a1a1a" stroke-width="0.28">V<tspan fill="#444" stroke="#444">&#946;</tspan>21</text>
<text x="335.91" y="357.0" font-size="8.45" text-anchor="middle" fill="#1a1a1a" stroke="#1a1a1a" stroke-width="0.28">V<tspan fill="#444" stroke="#444">&#946;</tspan>22</text>
<text x="370.42" y="357.0" font-size="8.45" text-anchor="middle" fill="#1a1a1a" stroke="#1a1a1a" stroke-width="0.28">V<tspan fill="#444" stroke="#444">&#946;</tspan>23</text>
<text x="404.94" y="357.0" font-size="8.45" text-anchor="middle" fill="#1a1a1a" stroke="#1a1a1a" stroke-width="0.28">V<tspan fill="#444" stroke="#444">&#946;</tspan>24</text>
<text x="432" y="283.0" font-size="10.2" fill="#1a1a1a" stroke="#1a1a1a" stroke-width="0.15">CD4+ T cells 20m</text>
<text x="432" y="295.5" font-size="10.2" fill="#1a1a1a" stroke="#1a1a1a" stroke-width="0.15">post-treatment</text>
<line x1="8.0" y1="387.5" x2="424.00" y2="387.5" stroke="#888" stroke-width="1.8"/>
<line x1="8.0" y1="426.5" x2="424.00" y2="426.5" stroke="#888" stroke-width="1.8"/>
<line x1="8.0" y1="465.5" x2="424.00" y2="465.5" stroke="#888" stroke-width="1.8"/>
<line x1="8.40" y1="387" x2="8.40" y2="466" stroke="#888" stroke-width="1.5"/>
<line x1="42.98" y1="387" x2="42.98" y2="466" stroke="#888" stroke-width="1.5"/>
<line x1="77.57" y1="387" x2="77.57" y2="466" stroke="#888" stroke-width="1.5"/>
<line x1="112.15" y1="387" x2="112.15" y2="466" stroke="#888" stroke-width="1.5"/>
<line x1="146.73" y1="387" x2="146.73" y2="466" stroke="#888" stroke-width="1.5"/>
<line x1="181.32" y1="387" x2="181.32" y2="466" stroke="#888" stroke-width="1.5"/>
<line x1="215.90" y1="387" x2="215.90" y2="466" stroke="#888" stroke-width="1.5"/>
<line x1="250.48" y1="387" x2="250.48" y2="466" stroke="#888" stroke-width="1.5"/>
<line x1="285.07" y1="387" x2="285.07" y2="466" stroke="#888" stroke-width="1.5"/>
<line x1="319.65" y1="387" x2="319.65" y2="466" stroke="#888" stroke-width="1.5"/>
<line x1="354.23" y1="387" x2="354.23" y2="466" stroke="#888" stroke-width="1.5"/>
<line x1="388.82" y1="387" x2="388.82" y2="466" stroke="#888" stroke-width="1.5"/>
<line x1="423.40" y1="387" x2="423.40" y2="466" stroke="#888" stroke-width="1.5"/>
<text x="25.29" y="381.0" font-size="8.45" text-anchor="middle" fill="#1a1a1a" stroke="#1a1a1a" stroke-width="0.28">V<tspan fill="#444" stroke="#444">&#946;</tspan>1</text>
<text x="59.88" y="381.0" font-size="8.45" text-anchor="middle" fill="#1a1a1a" stroke="#1a1a1a" stroke-width="0.28">V<tspan fill="#444" stroke="#444">&#946;</tspan>2</text>
<text x="94.46" y="381.0" font-size="8.45" text-anchor="middle" fill="#1a1a1a" stroke="#1a1a1a" stroke-width="0.28">V<tspan fill="#444" stroke="#444">&#946;</tspan>3</text>
<text x="129.04" y="381.0" font-size="8.45" text-anchor="middle" fill="#1a1a1a" stroke="#1a1a1a" stroke-width="0.28">V<tspan fill="#444" stroke="#444">&#946;</tspan>4</text>
<text x="163.62" y="381.0" font-size="8.45" text-anchor="middle" fill="#1a1a1a" stroke="#1a1a1a" stroke-width="0.28">V<tspan fill="#444" stroke="#444">&#946;</tspan>5</text>
<text x="198.21" y="381.0" font-size="8.45" text-anchor="middle" fill="#1a1a1a" stroke="#1a1a1a" stroke-width="0.28">V<tspan fill="#444" stroke="#444">&#946;</tspan>6A</text>
<text x="232.79" y="381.0" font-size="8.45" text-anchor="middle" fill="#1a1a1a" stroke="#1a1a1a" stroke-width="0.28">V<tspan fill="#444" stroke="#444">&#946;</tspan>6B</text>
<text x="267.38" y="381.0" font-size="8.45" text-anchor="middle" fill="#1a1a1a" stroke="#1a1a1a" stroke-width="0.28">V<tspan fill="#444" stroke="#444">&#946;</tspan>7</text>
<text x="301.96" y="381.0" font-size="8.45" text-anchor="middle" fill="#1a1a1a" stroke="#1a1a1a" stroke-width="0.28">V<tspan fill="#444" stroke="#444">&#946;</tspan>8</text>
<text x="336.54" y="381.0" font-size="8.45" text-anchor="middle" fill="#1a1a1a" stroke="#1a1a1a" stroke-width="0.28">V<tspan fill="#444" stroke="#444">&#946;</tspan>9</text>
<text x="371.12" y="381.0" font-size="8.45" text-anchor="middle" fill="#1a1a1a" stroke="#1a1a1a" stroke-width="0.28">V<tspan fill="#444" stroke="#444">&#946;</tspan>11</text>
<text x="405.71" y="381.0" font-size="8.45" text-anchor="middle" fill="#1a1a1a" stroke="#1a1a1a" stroke-width="0.28">V<tspan fill="#444" stroke="#444">&#946;</tspan>12</text>
<text x="25.29" y="477.0" font-size="8.45" text-anchor="middle" fill="#1a1a1a" stroke="#1a1a1a" stroke-width="0.28">V<tspan fill="#444" stroke="#444">&#946;</tspan>13A</text>
<text x="59.88" y="477.0" font-size="8.45" text-anchor="middle" fill="#1a1a1a" stroke="#1a1a1a" stroke-width="0.28">V<tspan fill="#444" stroke="#444">&#946;</tspan>13B</text>
<text x="94.46" y="477.0" font-size="8.45" text-anchor="middle" fill="#1a1a1a" stroke="#1a1a1a" stroke-width="0.28">V<tspan fill="#444" stroke="#444">&#946;</tspan>14</text>
<text x="129.04" y="477.0" font-size="8.45" text-anchor="middle" fill="#1a1a1a" stroke="#1a1a1a" stroke-width="0.28">V<tspan fill="#444" stroke="#444">&#946;</tspan>15</text>
<text x="163.62" y="477.0" font-size="8.45" text-anchor="middle" fill="#1a1a1a" stroke="#1a1a1a" stroke-width="0.28">V<tspan fill="#444" stroke="#444">&#946;</tspan>16</text>
<text x="198.21" y="477.0" font-size="8.45" text-anchor="middle" fill="#1a1a1a" stroke="#1a1a1a" stroke-width="0.28">V<tspan fill="#444" stroke="#444">&#946;</tspan>17</text>
<text x="232.79" y="477.0" font-size="8.45" text-anchor="middle" fill="#1a1a1a" stroke="#1a1a1a" stroke-width="0.28">V<tspan fill="#444" stroke="#444">&#946;</tspan>18</text>
<text x="267.38" y="477.0" font-size="8.45" text-anchor="middle" fill="#1a1a1a" stroke="#1a1a1a" stroke-width="0.28">V<tspan fill="#444" stroke="#444">&#946;</tspan>20</text>
<text x="301.96" y="477.0" font-size="8.45" text-anchor="middle" fill="#1a1a1a" stroke="#1a1a1a" stroke-width="0.28">V<tspan fill="#444" stroke="#444">&#946;</tspan>21</text>
<text x="336.54" y="477.0" font-size="8.45" text-anchor="middle" fill="#1a1a1a" stroke="#1a1a1a" stroke-width="0.28">V<tspan fill="#444" stroke="#444">&#946;</tspan>22</text>
<text x="371.12" y="477.0" font-size="8.45" text-anchor="middle" fill="#1a1a1a" stroke="#1a1a1a" stroke-width="0.28">V<tspan fill="#444" stroke="#444">&#946;</tspan>23</text>
<text x="405.71" y="477.0" font-size="8.45" text-anchor="middle" fill="#1a1a1a" stroke="#1a1a1a" stroke-width="0.28">V<tspan fill="#444" stroke="#444">&#946;</tspan>24</text>
<text x="432" y="403.0" font-size="10.2" fill="#1a1a1a" stroke="#1a1a1a" stroke-width="0.15">CD8+ T cells 20m</text>
<text x="432" y="415.5" font-size="10.2" fill="#1a1a1a" stroke="#1a1a1a" stroke-width="0.15">post-treatment</text>
<line x1="109.8" y1="498.40" x2="109.8" y2="672.00" stroke="#1a1a1a" stroke-width="1.6"/>
<line x1="109.0" y1="671.0" x2="366.00" y2="671.0" stroke="#1a1a1a" stroke-width="1.6"/>
<line x1="106.60" y1="671.00" x2="109.8" y2="671.00" stroke="#1a1a1a" stroke-width="1.2"/>
<text x="103.60" y="674.30" font-size="8.6" text-anchor="end" fill="#1a1a1a" stroke="#1a1a1a" stroke-width="0.2">0</text>
<line x1="106.60" y1="628.60" x2="109.8" y2="628.60" stroke="#1a1a1a" stroke-width="1.2"/>
<text x="103.60" y="631.90" font-size="8.6" text-anchor="end" fill="#1a1a1a" stroke="#1a1a1a" stroke-width="0.2">2000</text>
<line x1="106.60" y1="586.20" x2="109.8" y2="586.20" stroke="#1a1a1a" stroke-width="1.2"/>
<text x="103.60" y="589.50" font-size="8.6" text-anchor="end" fill="#1a1a1a" stroke="#1a1a1a" stroke-width="0.2">4000</text>
<line x1="106.60" y1="543.80" x2="109.8" y2="543.80" stroke="#1a1a1a" stroke-width="1.2"/>
<text x="103.60" y="547.10" font-size="8.6" text-anchor="end" fill="#1a1a1a" stroke="#1a1a1a" stroke-width="0.2">6000</text>
<line x1="106.60" y1="501.40" x2="109.8" y2="501.40" stroke="#1a1a1a" stroke-width="1.2"/>
<text x="103.60" y="504.70" font-size="8.6" text-anchor="end" fill="#1a1a1a" stroke="#1a1a1a" stroke-width="0.2">8000</text>
<line x1="109.80" y1="671.0" x2="109.80" y2="674.00" stroke="#1a1a1a" stroke-width="1.2"/>
<text x="109.80" y="684.9" font-size="8.8" text-anchor="middle" fill="#1a1a1a" stroke="#1a1a1a" stroke-width="0.2">0</text>
<line x1="173.60" y1="671.0" x2="173.60" y2="674.00" stroke="#1a1a1a" stroke-width="1.2"/>
<text x="173.60" y="684.9" font-size="8.8" text-anchor="middle" fill="#1a1a1a" stroke="#1a1a1a" stroke-width="0.2">6</text>
<line x1="237.40" y1="671.0" x2="237.40" y2="674.00" stroke="#1a1a1a" stroke-width="1.2"/>
<text x="237.40" y="684.9" font-size="8.8" text-anchor="middle" fill="#1a1a1a" stroke="#1a1a1a" stroke-width="0.2">12</text>
<line x1="301.20" y1="671.0" x2="301.20" y2="674.00" stroke="#1a1a1a" stroke-width="1.2"/>
<text x="301.20" y="684.9" font-size="8.8" text-anchor="middle" fill="#1a1a1a" stroke="#1a1a1a" stroke-width="0.2">18</text>
<line x1="365.00" y1="671.0" x2="365.00" y2="674.00" stroke="#1a1a1a" stroke-width="1.2"/>
<text x="365.00" y="684.9" font-size="8.8" text-anchor="middle" fill="#1a1a1a" stroke="#1a1a1a" stroke-width="0.2">24</text>
<text transform="translate(239.2,698.7) scale(0.88,1)" font-size="10.5" text-anchor="middle" fill="#1a1a1a" stroke="#1a1a1a" stroke-width="0.3">Months post treatment</text>
<text transform="translate(78.9,584.5) rotate(-90) scale(0.855,1)" font-size="10.3" text-anchor="middle" fill="#1a1a1a" stroke="#1a1a1a" stroke-width="0.25">TRECS/10<tspan font-size="8.2" dy="-3.0">6</tspan><tspan dy="3.0"> T cells</tspan></text>
<polyline points="109.80,659.34 237.40,581.96 322.47,628.60" fill="none" stroke="#243a52" stroke-width="1.8" stroke-linejoin="miter"/>
<polyline points="109.80,660.40 237.40,619.06 322.47,528.96" fill="none" stroke="#7a1232" stroke-width="1.8" stroke-linejoin="miter"/>
<line x1="121" y1="501" x2="140" y2="501" stroke="#7a1232" stroke-width="1.6"/>
<text x="143.5" y="504" font-size="8.5" fill="#1a1a1a" stroke="#1a1a1a" stroke-width="0.2">CD4</text>
<line x1="171.2" y1="501" x2="189.6" y2="501" stroke="#243a52" stroke-width="1.6"/>
<text x="193" y="504" font-size="8.5" fill="#1a1a1a" stroke="#1a1a1a" stroke-width="0.2">CD8</text>
<rect x="0" y="1" width="520" height="1" fill="#aaa"/>
<rect x="1" y="0" width="1" height="709" fill="#888"/>
<rect x="518" y="0" width="1" height="709" fill="#888"/>
<rect x="0" y="707" width="520" height="1" fill="#888"/>
<rect x="0" y="0" width="520" height="1" fill="#000"/>
<rect x="0" y="0" width="1" height="709" fill="#000"/>
<rect x="519" y="0" width="1" height="709" fill="#000"/>
<rect x="0" y="708" width="520" height="1" fill="#000"/>
</svg></body></html>
